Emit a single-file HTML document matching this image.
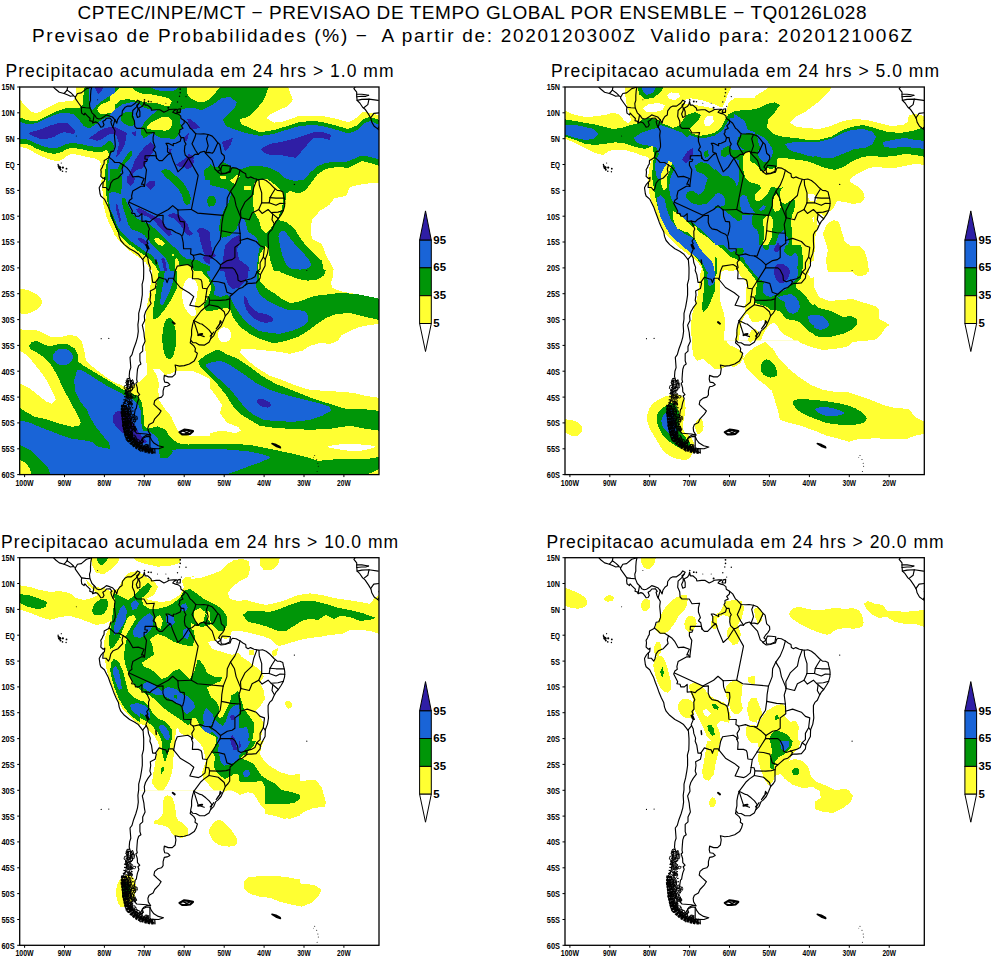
<!DOCTYPE html>
<html><head><meta charset="utf-8"><title>CPTEC</title>
<style>html,body{margin:0;padding:0;background:#fff}svg{display:block}text{font-family:"Liberation Sans",sans-serif;fill:#000}</style></head><body>
<svg width="991" height="957" viewBox="0 0 991 957">
<rect width="991" height="957" fill="#fff"/>
<defs>
<clipPath id="c1"><rect x="19.7" y="87.0" width="359.3" height="387.6"/></clipPath>
<clipPath id="c2"><rect x="565.0" y="87.0" width="359.3" height="387.6"/></clipPath>
<clipPath id="c3"><rect x="19.7" y="557.7" width="359.3" height="387.6"/></clipPath>
<clipPath id="c4"><rect x="565.0" y="557.7" width="359.3" height="387.6"/></clipPath>
<g id="ml" fill="none" stroke="#000" stroke-width="1.15" stroke-linejoin="round" stroke-linecap="round"><path d="M114.8,119.6 L116.8,123.2 L117.6,119.6 L119.6,116.5 L122.0,114.9 L122.4,110.8 L125.2,107.2 L127.6,106.1 L131.2,106.1 L135.5,103.0 L137.5,100.2 L139.9,101.5 L138.7,103.5 L136.7,105.1 L137.9,107.9 L137.9,110.3 L136.3,113.9 L137.5,117.5 L139.9,116.5 L139.9,111.8 L138.7,108.2 L141.9,106.6 L143.5,104.6 L144.3,101.5 L145.1,105.1 L147.5,105.1 L151.1,108.2 L151.5,110.3 L156.3,109.7 L159.9,109.7 L163.9,112.3 L167.1,110.8 L169.1,109.5 L173.1,109.2 L176.7,109.2 L173.9,110.8 L172.7,112.3 L175.5,113.4 L177.9,113.9 L180.6,115.9 L181.0,118.5 L184.2,120.6 L187.4,123.2 L190.2,128.3 L191.8,129.4 L195.0,133.0 L196.2,133.8 L200.6,134.0 L203.8,133.8 L208.2,134.5 L212.2,136.1 L215.0,139.2 L217.4,142.3 L219.8,144.4 L221.4,153.2 L224.2,155.7 L224.5,158.8 L222.6,161.9 L220.2,164.5 L218.6,167.1 L221.0,169.2 L217.4,171.8 L221.0,174.3 L224.9,173.8 L228.1,172.8 L230.1,172.3 L231.3,168.7 L232.5,167.6 L236.1,168.1 L240.1,170.2 L242.9,172.3 L245.7,173.8 L246.1,176.9 L248.1,178.0 L250.5,176.9 L254.1,178.5 L256.9,179.2 L259.3,179.5 L262.5,179.0 L266.1,180.5 L270.0,183.6 L274.0,187.8 L277.2,190.4 L280.0,190.6 L282.8,191.9 L283.4,195.0 L284.4,198.6 L284.8,201.7 L284.6,206.1 L283.2,211.0 L281.2,214.6 L278.4,218.8 L276.0,221.4 L274.0,225.0 L272.0,229.6 L269.6,231.7 L268.1,234.8 L268.1,241.0 L268.5,247.2 L267.5,253.4 L265.3,259.1 L265.1,265.8 L262.9,269.9 L260.5,274.6 L260.1,278.2 L256.1,282.9 L251.3,283.4 L248.1,283.4 L245.3,284.9 L242.5,287.5 L238.9,288.6 L235.3,291.7 L232.5,294.2 L230.1,296.3 L229.7,301.0 L229.7,305.1 L229.7,310.3 L228.1,312.8 L225.3,315.9 L223.4,320.6 L221.0,325.8 L217.8,329.4 L215.8,330.9 L213.8,335.6 L210.6,338.9 L209.0,342.3 L204.6,345.1 L199.4,344.9 L195.8,342.8 L192.8,342.6 L190.8,340.2 L190.2,342.8 L193.8,345.9 L195.4,348.5 L195.0,351.6 L197.4,353.2 L196.2,357.3 L194.2,360.9 L189.4,364.0 L184.2,365.6 L179.5,366.1 L175.1,365.0 L175.9,369.2 L175.1,374.3 L172.3,376.9 L168.3,376.9 L164.3,375.4 L163.9,379.0 L164.7,382.1 L167.9,382.6 L169.9,384.7 L167.1,386.2 L164.3,386.7 L163.1,390.9 L163.1,395.0 L161.5,397.1 L157.9,398.1 L154.7,400.7 L153.9,404.3 L157.1,407.4 L161.1,411.0 L159.1,414.1 L154.7,418.8 L153.1,422.4 L149.1,424.5 L147.9,427.6 L148.3,431.2 L150.7,435.1 L147.1,434.8 L143.5,436.9 L140.7,441.5 L138.7,442.6 L135.2,440.5 L131.2,438.4 L128.8,436.9 L126.0,434.3 L124.4,430.7 L123.2,425.5 L122.4,419.3 L122.4,414.1 L122.0,407.4 L122.8,405.3 L125.2,402.2 L126.4,397.1 L127.2,391.9 L132.4,389.8 L133.2,383.1 L130.4,380.5 L129.2,376.4 L129.6,371.2 L130.8,367.6 L130.4,362.5 L130.0,357.3 L132.0,354.7 L133.6,349.0 L135.9,342.8 L137.5,337.1 L138.3,331.4 L137.9,324.7 L138.7,319.0 L138.7,313.4 L140.3,307.2 L141.5,300.4 L142.3,294.8 L142.3,288.6 L142.1,284.4 L143.5,279.2 L143.7,273.0 L143.7,267.9 L143.1,260.1 L140.7,257.0 L138.3,253.9 L134.4,251.3 L129.6,248.8 L124.4,244.6 L120.8,240.5 L119.2,236.4 L118.4,231.7 L116.0,227.1 L114.0,222.4 L112.0,216.7 L110.0,211.5 L108.4,206.9 L106.0,202.2 L104.4,199.1 L100.8,196.0 L100.0,193.5 L99.6,190.4 L99.2,187.8 L100.8,184.7 L102.8,182.3 L104.4,181.1 L104.8,177.4 L103.2,178.5 L100.8,176.4 L101.2,171.8 L100.8,169.7 L102.4,167.1 L102.8,165.6 L104.0,164.0 L104.2,160.4 L106.0,159.4 L108.8,157.8 L110.0,154.7 L110.8,151.6 L113.6,151.1 L115.2,146.9 L115.2,143.8 L114.8,139.7 L114.4,135.6 L115.0,130.9 L113.6,128.3 L112.8,127.1"/>
<path d="M112.8,127.1 L111.6,124.7 L110.8,121.6 L112.0,120.6 L110.0,118.0 L106.4,118.3 L105.2,120.1 L102.8,121.6 L104.0,124.7 L102.8,126.8 L100.8,127.1 L99.6,125.2 L97.6,122.7 L95.6,121.9 L92.8,122.9 L92.4,121.4 L89.7,120.6 L90.1,118.5 L86.9,115.4 L84.9,113.1 L84.1,114.9 L81.7,113.1 L81.3,109.7 L81.7,107.4 L78.5,103.0 L75.3,98.4 L75.3,96.8 L73.3,95.8 L70.5,96.3 L67.3,94.8 L64.1,93.5 L59.3,92.2 L55.7,89.3 L52.9,86.5"/>
<path d="M91.8,86.5 L90.9,90.6 L90.5,95.8 L90.5,100.4 L89.5,103.5 L89.9,107.7 L92.0,112.8 L95.2,115.9 L96.4,118.0 L98.8,119.0 L101.2,118.5 L104.4,116.5 L106.4,114.9 L108.8,115.7 L112.4,117.0 L114.8,119.6"/>
<path d="M355.5,86.5 L353.9,88.6 L356.7,92.2 L356.7,95.8 L357.1,100.4 L359.8,103.0 L362.6,107.2 L365.0,109.2 L368.6,114.4 L371.0,118.5 L371.8,122.1 L374.2,126.3 L377.8,128.9 L379.8,130.4"/>
<path d="M356.7,94.2 L361.8,94.2 L365.8,94.8 L368.6,95.3"/>
<path d="M356.7,96.8 L361.8,96.3 L365.8,96.3 L368.6,95.3"/>
<path d="M357.1,100.4 L361.8,99.4 L369.0,99.1 L378.2,100.4"/>
<path d="M363.8,107.7 L367.8,104.6 L369.0,99.1"/>
<path d="M370.6,118.0 L373.8,113.4 L379.0,112.8"/>
<path d="M377.8,128.6 L380.6,124.7 L379.0,120.6"/>
<path d="M138.9,103.5 L136.3,107.2 L132.8,110.5 L132.4,116.5 L134.4,121.1 L134.8,126.3 L136.7,128.3 L143.9,128.3 L146.7,133.0 L154.3,132.5 L153.1,137.1 L153.1,141.3 L155.1,146.9 L153.1,150.0 L155.5,152.1 L156.7,158.3"/>
<path d="M156.7,158.3 L155.9,155.7 L152.7,155.5 L145.1,155.7 L144.9,159.0 L147.5,159.4 L146.7,161.4 L144.1,161.7 L144.1,165.3 L146.5,169.7 L144.5,186.2"/>
<path d="M144.5,186.2 L143.1,184.2 L141.5,184.2 L144.1,178.5 L138.3,176.4 L132.8,176.9 L129.6,171.0 L126.8,167.6 L123.2,165.0"/>
<path d="M123.2,165.0 L119.2,162.5 L114.8,162.5 L112.4,159.9 L109.0,157.3"/>
<path d="M123.2,165.0 L122.0,169.2 L122.8,172.8 L118.0,178.0 L113.2,180.0 L110.8,183.1 L109.6,188.3 L108.4,190.4 L106.0,187.5 L102.8,187.5 L103.2,182.3"/>
<path d="M144.5,186.2 L141.1,186.2 L132.8,190.9 L131.6,196.0 L132.0,198.6 L129.6,200.2 L128.4,203.3 L132.4,211.0 L131.6,213.1 L134.8,213.6 L135.5,216.2 L139.1,216.2 L141.9,213.6 L141.9,221.4 L145.9,221.1"/>
<path d="M145.9,221.1 L149.5,229.1 L148.5,231.2 L148.7,238.4 L146.7,241.0 L147.9,243.6 L145.9,245.1 L148.3,248.2 L145.9,253.9 L146.3,255.0"/>
<path d="M146.3,255.0 L142.7,259.4"/>
<path d="M146.3,255.0 L147.9,258.1 L148.5,262.7 L150.3,267.4 L149.9,270.5 L151.5,274.6 L152.7,282.4 L155.5,282.4"/>
<path d="M155.5,282.4 L156.3,283.4 L155.1,288.6 L150.3,291.1 L150.7,294.8 L149.9,300.4 L151.1,303.5 L147.9,307.7 L145.5,311.8 L144.3,315.9 L144.7,320.6 L142.3,325.2 L143.9,332.5 L144.3,336.6 L145.1,341.3 L142.7,346.4 L142.7,351.1 L139.9,353.7 L139.9,360.9 L140.9,364.0 L138.7,365.6 L137.5,369.2 L137.1,373.8 L136.7,379.5 L137.3,382.1 L135.9,383.1 L137.3,387.8 L137.5,391.9 L139.7,394.5 L137.9,396.0 L138.9,398.6 L137.5,402.2 L136.7,405.9 L136.3,408.4 L135.2,409.5 L134.4,414.7 L134.0,416.7 L130.4,419.3 L130.4,422.9 L131.6,426.5 L135.2,426.3 L134.8,431.2 L136.7,433.3 L146.3,434.0 L150.5,435.1"/>
<path d="M155.5,282.4 L159.1,277.2 L163.5,278.7 L165.9,279.2 L167.1,282.6 L168.7,278.2 L173.1,278.2 L173.7,279.5"/>
<path d="M173.7,279.5 L175.3,270.7 L177.3,266.1 L187.8,264.5 L191.4,266.8 L191.6,268.7"/>
<path d="M191.6,268.7 L192.8,267.6 L191.8,262.7 L194.2,258.6 L193.2,255.2 L190.6,253.9 L191.0,248.8 L183.6,248.6 L183.2,242.6 L181.8,235.8 L180.2,234.3 L175.9,232.5 L171.9,229.9 L166.7,228.9 L164.3,226.3 L162.9,222.4 L163.1,215.2 L157.9,215.7 L155.1,217.8 L151.9,219.8 L149.9,221.9 L145.9,221.1"/>
<path d="M191.6,268.7 L192.8,271.8 L192.4,278.7 L198.2,278.7 L201.0,279.8 L201.8,281.8 L202.6,288.3 L207.0,288.8 L205.8,296.8"/>
<path d="M205.8,296.8 L205.0,302.2 L200.6,305.9 L198.6,306.9 L189.8,305.3 L193.8,296.6 L189.0,292.7 L180.2,287.5 L173.7,279.5"/>
<path d="M205.8,296.8 L208.8,297.1 L209.6,300.2 L209.0,304.8 L204.2,308.2 L201.0,311.0 L193.8,320.6"/>
<path d="M193.8,320.6 L200.2,323.7 L201.8,324.0 L205.8,327.1 L209.2,330.2 L211.8,333.8 L210.6,338.9"/>
<path d="M193.8,320.6 L192.6,324.7 L191.6,329.9 L191.6,335.1 L190.6,339.7"/>
<path d="M184.2,120.6 L184.2,123.2 L181.4,125.8 L183.0,128.3 L179.7,129.9 L179.7,132.5 L178.7,133.8 L181.2,137.6"/>
<path d="M181.2,137.6 L180.2,141.3 L175.9,143.3 L173.3,143.6 L173.3,145.7 L168.3,143.3 L165.9,143.3 L167.5,145.9 L167.5,151.9 L170.7,153.4 L168.3,154.4 L162.3,160.6 L159.1,160.6 L156.7,158.3"/>
<path d="M181.2,137.6 L183.8,137.6 L184.4,141.3 L186.0,144.1 L184.8,145.9 L184.4,151.1 L185.2,155.0 L188.2,157.8 L190.2,157.8 L192.2,156.8 L195.0,154.4 L198.2,154.4"/>
<path d="M195.8,133.8 L195.0,137.1 L193.4,140.7 L192.0,143.8 L193.8,147.2 L195.4,150.3 L198.2,154.4"/>
<path d="M198.2,154.4 L200.2,152.4 L204.2,151.3 L205.8,152.6"/>
<path d="M208.2,134.5 L206.4,138.7 L208.2,145.9 L205.8,152.6"/>
<path d="M205.8,152.6 L209.0,152.4 L212.4,153.2 L214.0,151.3 L217.6,143.3"/>
<path d="M115.0,119.7 L112.8,127.1"/>
<path d="M94.2,115.2 L92.8,122.9"/>
<path d="M89.9,108.0 L85.7,107.7 L81.7,107.2"/>
<path d="M91.8,87.0 L86.5,88.6 L81.3,92.9 L77.5,93.5 L75.3,97.3"/>
<path d="M73.5,95.3 L70.7,92.7 L67.1,90.1"/>
<path d="M67.1,90.1 L64.1,93.5"/>
<path d="M67.1,90.1 L67.7,86.5"/>
<path d="M149.9,436.6 L149.9,448.2"/>
<path d="M188.6,158.3 L198.2,175.4 L191.4,209.5"/>
<path d="M191.4,209.5 L196.2,212.3 L197.4,213.1 L223.2,215.4"/>
<path d="M191.4,209.5 L177.9,210.0"/>
<path d="M177.9,210.0 L172.7,205.6 L168.3,209.5 L157.5,215.2"/>
<path d="M129.2,202.2 L157.5,215.2"/>
<path d="M177.9,210.0 L178.3,216.2 L180.2,221.4 L184.2,221.9 L184.6,226.5 L183.8,231.2 L182.6,235.3"/>
<path d="M170.7,153.4 L173.1,160.4 L176.7,168.7 L177.9,171.8 L183.0,167.1 L188.6,158.3"/>
<path d="M205.0,152.6 L212.2,160.4 L215.0,169.2 L217.4,171.2"/>
<path d="M240.1,170.2 L238.1,177.4 L234.9,185.2 L230.5,191.4"/>
<path d="M230.5,191.4 L227.3,198.1 L226.9,205.9 L223.2,215.4"/>
<path d="M223.2,215.4 L221.8,224.0 L221.4,230.7 L220.2,239.5 L215.0,247.2 L211.8,256.0 L209.4,256.0"/>
<path d="M230.5,191.4 L234.5,198.1 L236.1,205.9 L240.1,215.7 L240.9,217.8"/>
<path d="M256.9,179.2 L253.7,187.8 L252.1,195.5 L244.9,202.2 L240.5,211.0 L240.9,217.8"/>
<path d="M258.9,179.5 L259.3,185.2 L261.7,192.9 L261.7,202.8"/>
<path d="M275.0,189.3 L272.0,194.0 L270.0,197.6"/>
<path d="M270.0,197.6 L269.2,202.8 L261.7,202.8"/>
<path d="M270.0,197.6 L276.0,198.1 L284.0,198.1"/>
<path d="M269.2,202.8 L276.0,205.3 L280.0,203.3 L284.8,203.5"/>
<path d="M283.4,210.5 L278.0,212.1 L271.2,212.6 L268.1,209.5 L262.1,213.4 L258.7,209.5 L261.7,202.8"/>
<path d="M278.4,218.8 L272.8,214.1 L271.2,212.6"/>
<path d="M274.4,224.0 L272.0,219.8 L272.8,214.1"/>
<path d="M240.9,217.8 L249.3,219.8 L252.1,213.1 L258.7,209.5"/>
<path d="M240.9,217.8 L238.9,224.5 L240.1,233.3"/>
<path d="M221.4,230.7 L226.5,231.7 L231.3,232.7 L240.1,233.3"/>
<path d="M240.1,233.3 L240.5,243.1 L234.9,247.2 L234.9,257.5 L232.1,259.6 L227.3,260.6 L220.6,264.8"/>
<path d="M240.1,240.5 L247.3,238.4 L256.1,241.5 L260.1,245.7 L264.5,247.2 L263.3,257.0 L265.3,259.4"/>
<path d="M263.3,257.0 L260.1,262.7 L260.1,268.9 L256.9,272.0 L260.1,274.6"/>
<path d="M256.9,272.0 L254.9,276.7 L251.3,278.7 L245.3,280.3"/>
<path d="M245.3,280.3 L240.9,281.8 L238.1,280.3 L237.7,275.6 L234.9,269.9 L232.5,267.9 L226.9,267.9 L220.2,267.9"/>
<path d="M245.3,280.3 L247.3,281.8 L245.3,285.2"/>
<path d="M232.5,294.2 L226.9,292.2 L225.7,287.5 L224.5,283.4 L218.2,281.8 L211.8,281.3"/>
<path d="M220.2,267.9 L216.6,273.6 L211.8,281.3"/>
<path d="M211.8,281.3 L207.8,287.5 L207.0,288.8"/>
<path d="M220.2,267.9 L220.6,264.8 L216.2,260.6 L211.8,257.5 L209.4,256.0"/>
<path d="M209.4,256.0 L204.6,255.5 L200.2,253.9 L193.0,255.5"/>
<path d="M229.7,298.9 L226.1,299.9 L220.2,300.4 L209.8,300.2"/>
<path d="M225.3,315.9 L224.2,311.8 L218.2,306.6 L209.0,304.8"/>
<path d="M222.2,165.3 L226.1,165.6 L230.5,166.1 L229.7,171.2 L225.3,173.3 L221.4,173.3 L220.6,169.2 Z"/>
<path d="M176.7,112.3 L180.2,112.3 L180.4,108.7 L177.9,109.2 Z"/>
<path d="M145.9,244.6 L147.5,245.1 L149.1,248.8 L147.1,248.2 Z" fill="#000"/>
<path d="M220.2,320.6 L219.4,324.7 L216.2,328.9 L218.6,325.2 L221.4,322.1 Z"/>
<path d="M213.8,332.0 L211.4,335.1 L210.2,336.1 L212.6,333.5 Z"/>
<path d="M198.2,335.1 L200.2,334.3 L202.2,334.0" stroke-width="2"/>
<path d="M193.8,320.6 L198.2,334.5 L204.2,336.6"/>
<path d="M179.5,432.2 L184.2,429.6 L188.2,430.2 L193.0,431.2 L190.2,433.8 L186.2,434.3 L182.2,434.3 Z" stroke-width="2.2"/>
<path d="M182.2,430.7 L187.0,432.7 L189.8,431.2 L185.8,433.3" stroke-width="1.4"/>
<path d="M272.0,443.6 L276.0,444.6 L280.0,446.7 L280.4,447.7 L276.0,446.2 Z" stroke-width="1.6" fill="#000"/>
<circle cx="59.7" cy="167.6" r="1.6" fill="#000" stroke="none"/>
<circle cx="58.5" cy="166.1" r="1.0" fill="#000" stroke="none"/>
<circle cx="62.9" cy="167.6" r="1.1" fill="#000" stroke="none"/>
<circle cx="60.5" cy="169.7" r="1.0" fill="#000" stroke="none"/>
<circle cx="66.5" cy="168.7" r="0.9" fill="#000" stroke="none"/>
<circle cx="62.5" cy="171.2" r="0.8" fill="#000" stroke="none"/>
<circle cx="66.1" cy="171.8" r="0.7" fill="#000" stroke="none"/>
<circle cx="61.3" cy="163.0" r="0.6" fill="#000" stroke="none"/>
<circle cx="58.1" cy="164.5" r="0.7" fill="#000" stroke="none"/>
<circle cx="144.5" cy="99.9" r="0.8" fill="#000" stroke="none"/>
<circle cx="148.5" cy="101.5" r="0.9" fill="#000" stroke="none"/>
<circle cx="151.1" cy="101.7" r="0.8" fill="#000" stroke="none"/>
<circle cx="157.5" cy="103.3" r="0.5" fill="#000" stroke="none"/>
<circle cx="165.9" cy="103.3" r="0.5" fill="#000" stroke="none"/>
<circle cx="168.3" cy="107.7" r="1.0" fill="#000" stroke="none"/>
<circle cx="177.5" cy="102.0" r="0.7" fill="#000" stroke="none"/>
<circle cx="179.5" cy="96.3" r="0.7" fill="#000" stroke="none"/>
<circle cx="180.2" cy="92.7" r="0.8" fill="#000" stroke="none"/>
<circle cx="180.2" cy="89.1" r="0.9" fill="#000" stroke="none"/>
<circle cx="186.0" cy="96.6" r="0.7" fill="#000" stroke="none"/>
<circle cx="181.4" cy="106.4" r="0.6" fill="#000" stroke="none"/>
<circle cx="294.4" cy="184.4" r="0.7" fill="#000" stroke="none"/>
<circle cx="306.8" cy="270.5" r="0.6" fill="#000" stroke="none"/>
<circle cx="97.6" cy="99.7" r="0.5" fill="#000" stroke="none"/>
<circle cx="101.2" cy="338.7" r="0.6" fill="#000" stroke="none"/>
<circle cx="108.8" cy="338.4" r="0.6" fill="#000" stroke="none"/>
<circle cx="317.9" cy="463.2" r="0.5" fill="#000" stroke="none"/>
<circle cx="316.7" cy="459.6" r="0.5" fill="#000" stroke="none"/>
<circle cx="314.7" cy="455.5" r="0.5" fill="#000" stroke="none"/>
<circle cx="313.5" cy="457.5" r="0.4" fill="#000" stroke="none"/>
<circle cx="318.3" cy="466.3" r="0.5" fill="#000" stroke="none"/>
<circle cx="317.1" cy="471.5" r="0.5" fill="#000" stroke="none"/>
<circle cx="76.3" cy="136.1" r="0.5" fill="#000" stroke="none"/>
<path d="M155.9,260.1 L156.3,263.7" stroke-width="1.5"/>
<path d="M172.7,322.1 L174.7,323.7" stroke-width="2"/>
<path d="M149.9,436.6 L151.5,440.0 L153.9,443.1 L158.3,445.7 L163.5,447.0 L158.7,448.8 L152.3,448.5 L146.3,449.8 L140.3,447.7 L136.3,445.1 L140.7,443.6 L143.1,441.5 L142.3,438.4 L146.7,436.4 Z"/>
<path d="M144.3,450.3 L150.3,450.6 L154.3,452.4 L149.1,451.9 Z"/>
<path d="M126.8,379.6 L126.2,380.7 L126.8,381.6 L127.5,382.3 L127.9,381.1 L127.9,380.0 L127.4,378.8 Z" stroke-width="0.9"/>
<path d="M133.6,382.9 L133.3,381.2 L132.5,379.5 L131.8,381.3 L130.8,382.5 L131.8,383.7 L132.7,383.7 Z" stroke-width="0.9"/>
<path d="M126.8,383.6 L127.7,384.3 L128.2,382.9 L128.2,381.7 L127.7,380.7 L126.7,380.5 L126.4,382.2 Z" stroke-width="0.9"/>
<path d="M128.0,384.6 L128.7,383.4 L129.0,382.2 L127.8,381.5 L126.2,381.5 L125.7,383.1 L126.8,384.0 Z" stroke-width="0.9"/>
<path d="M128.1,385.6 L127.9,386.7 L129.8,387.1 L131.2,386.3 L131.7,385.1 L129.9,384.6 L128.1,384.5 Z" stroke-width="0.9"/>
<path d="M134.4,386.0 L134.5,383.7 L133.1,383.5 L131.8,383.2 L131.3,385.4 L131.9,387.9 L133.6,388.0 Z" stroke-width="0.9"/>
<path d="M128.9,385.9 L128.3,385.9 L127.4,386.4 L128.0,387.8 L128.5,388.5 L129.2,388.1 L129.8,386.7 Z" stroke-width="0.9"/>
<path d="M127.1,390.6 L127.6,388.2 L127.5,386.3 L126.3,385.5 L124.6,385.7 L124.0,388.4 L125.7,389.4 Z" stroke-width="0.9"/>
<path d="M126.8,389.3 L125.6,389.5 L125.5,391.1 L126.2,392.5 L127.9,392.9 L128.6,390.9 L128.0,389.2 Z" stroke-width="0.9"/>
<path d="M130.0,392.4 L130.9,390.6 L130.6,388.3 L130.0,386.9 L129.3,387.8 L128.6,389.1 L129.3,390.5 Z" stroke-width="0.9"/>
<path d="M127.2,393.0 L126.7,392.4 L125.8,392.0 L125.3,392.7 L124.5,393.6 L125.8,394.1 L126.8,393.6 Z" stroke-width="0.9"/>
<path d="M127.6,393.7 L127.9,392.4 L127.4,391.5 L126.3,391.6 L125.6,392.0 L125.3,392.8 L126.1,393.3 Z" stroke-width="0.9"/>
<path d="M130.1,394.0 L128.3,394.4 L126.6,394.8 L126.0,396.7 L128.1,397.9 L130.3,397.2 L130.5,395.5 Z" stroke-width="0.9"/>
<path d="M130.6,396.7 L131.6,395.8 L132.5,394.2 L131.0,392.6 L128.8,393.2 L127.8,395.0 L128.7,396.9 Z" stroke-width="0.9"/>
<path d="M129.9,396.0 L129.3,395.5 L128.1,395.1 L126.9,395.8 L127.6,396.8 L128.6,397.6 L130.2,397.1 Z" stroke-width="0.9"/>
<path d="M134.6,395.7 L133.5,395.4 L132.7,396.5 L133.2,397.9 L134.4,398.0 L135.4,397.5 L135.7,396.1 Z" stroke-width="0.9"/>
<path d="M127.8,396.9 L127.6,399.0 L129.5,399.1 L131.3,398.7 L131.9,396.2 L130.0,395.2 L128.4,395.3 Z" stroke-width="0.9"/>
<path d="M132.4,396.5 L131.1,396.3 L130.7,397.4 L130.2,398.4 L131.2,399.3 L132.3,398.7 L132.5,397.7 Z" stroke-width="0.9"/>
<path d="M124.1,402.6 L126.0,403.8 L128.1,404.6 L129.7,402.8 L128.5,401.1 L127.1,400.4 L125.6,400.9 Z" stroke-width="0.9"/>
<path d="M129.0,398.7 L127.7,398.8 L126.8,399.5 L126.6,401.0 L127.4,402.4 L128.6,401.6 L129.6,400.5 Z" stroke-width="0.9"/>
<path d="M130.0,401.7 L129.2,400.8 L129.1,402.4 L129.1,403.8 L129.8,404.7 L130.6,403.8 L130.6,402.3 Z" stroke-width="0.9"/>
<path d="M128.2,402.9 L129.2,403.5 L131.0,403.7 L131.7,402.7 L131.1,401.7 L129.3,401.2 L127.4,401.8 Z" stroke-width="0.9"/>
<path d="M128.5,404.3 L128.7,406.1 L129.9,407.8 L131.4,406.6 L132.1,404.5 L131.1,402.4 L129.6,403.3 Z" stroke-width="0.9"/>
<path d="M131.1,402.8 L129.5,402.7 L128.3,403.0 L128.3,403.8 L128.8,404.8 L130.9,404.8 L132.3,403.8 Z" stroke-width="0.9"/>
<path d="M128.5,407.0 L128.8,404.5 L127.6,404.3 L126.7,405.1 L126.1,407.4 L127.0,409.4 L128.0,408.3 Z" stroke-width="0.9"/>
<path d="M124.8,405.7 L124.6,406.9 L124.3,407.9 L125.4,408.3 L126.2,407.6 L126.7,406.8 L126.2,405.8 Z" stroke-width="0.9"/>
<path d="M125.4,406.4 L124.1,406.0 L122.3,405.7 L122.5,408.2 L123.5,409.5 L124.9,410.0 L126.6,408.6 Z" stroke-width="0.9"/>
<path d="M128.6,411.3 L129.7,411.8 L130.3,411.4 L131.1,410.0 L130.5,408.1 L129.7,408.3 L128.5,408.5 Z" stroke-width="0.9"/>
<path d="M129.7,407.1 L128.7,406.0 L127.9,406.6 L127.3,408.3 L127.5,410.8 L128.6,410.3 L129.1,409.2 Z" stroke-width="0.9"/>
<path d="M128.4,409.8 L128.0,409.1 L127.1,409.2 L126.3,409.9 L127.0,410.8 L127.7,411.3 L128.3,410.6 Z" stroke-width="0.9"/>
<path d="M122.4,412.8 L122.8,414.3 L123.8,414.8 L123.8,412.4 L124.0,410.3 L123.0,410.1 L122.3,411.0 Z" stroke-width="0.9"/>
<path d="M130.7,412.0 L130.7,409.9 L129.1,409.3 L127.8,410.5 L127.9,412.4 L128.8,413.6 L129.9,413.0 Z" stroke-width="0.9"/>
<path d="M124.6,411.9 L123.1,411.1 L121.6,412.2 L122.1,413.6 L123.8,414.0 L125.1,413.6 L125.6,412.6 Z" stroke-width="0.9"/>
<path d="M128.5,413.0 L127.7,411.6 L126.5,411.3 L124.9,411.3 L125.2,412.8 L125.8,413.7 L126.9,413.3 Z" stroke-width="0.9"/>
<path d="M129.2,413.6 L128.7,412.6 L127.9,412.0 L127.5,413.1 L127.5,414.2 L128.0,415.2 L128.9,414.7 Z" stroke-width="0.9"/>
<path d="M128.9,416.2 L130.5,415.0 L131.1,413.5 L131.0,411.3 L129.1,412.0 L127.4,412.5 L127.5,414.6 Z" stroke-width="0.9"/>
<path d="M123.3,415.1 L124.7,413.6 L125.7,412.3 L124.7,410.8 L122.7,410.2 L121.1,411.8 L121.3,414.0 Z" stroke-width="0.9"/>
<path d="M129.6,411.0 L128.5,411.3 L127.7,412.6 L128.7,413.7 L130.1,415.0 L131.2,413.2 L131.1,411.2 Z" stroke-width="0.9"/>
<path d="M131.4,418.2 L132.2,417.4 L132.5,415.3 L131.7,414.4 L130.9,413.3 L130.7,415.4 L130.9,416.8 Z" stroke-width="0.9"/>
<path d="M128.1,415.4 L127.8,413.7 L126.9,412.9 L125.8,413.6 L125.5,415.9 L126.5,417.3 L127.6,417.2 Z" stroke-width="0.9"/>
<path d="M124.5,414.6 L124.1,416.4 L124.2,417.7 L124.8,418.7 L125.9,418.7 L126.4,416.6 L125.7,414.7 Z" stroke-width="0.9"/>
<path d="M128.7,414.2 L127.1,414.4 L125.5,414.4 L125.2,416.4 L126.8,416.8 L128.0,417.2 L129.1,416.1 Z" stroke-width="0.9"/>
<path d="M130.6,416.0 L129.7,417.1 L129.0,418.6 L129.2,421.3 L130.5,420.5 L131.6,420.1 L131.4,417.6 Z" stroke-width="0.9"/>
<path d="M134.2,417.2 L134.5,418.5 L135.2,419.8 L136.0,418.6 L136.0,416.6 L135.3,415.6 L134.4,415.5 Z" stroke-width="0.9"/>
<path d="M129.2,418.3 L130.1,417.2 L129.6,415.1 L128.7,414.0 L128.2,415.9 L128.0,417.6 L128.6,418.9 Z" stroke-width="0.9"/>
<path d="M136.1,416.6 L135.3,417.1 L134.6,418.5 L135.9,419.1 L137.3,419.5 L137.4,417.8 L137.0,416.6 Z" stroke-width="0.9"/>
<path d="M126.6,423.1 L128.4,421.4 L128.1,418.6 L125.8,417.9 L123.8,418.6 L124.2,420.8 L124.4,423.1 Z" stroke-width="0.9"/>
<path d="M130.7,418.8 L128.9,418.3 L127.6,418.1 L126.9,419.2 L127.4,420.2 L128.7,421.1 L130.5,420.5 Z" stroke-width="0.9"/>
<path d="M125.6,418.7 L125.4,420.0 L126.0,421.0 L127.2,421.9 L127.7,420.1 L127.3,418.7 L126.4,417.1 Z" stroke-width="0.9"/>
<path d="M135.2,419.7 L134.4,419.4 L133.7,419.5 L133.4,420.4 L133.7,421.5 L134.9,421.9 L135.6,420.8 Z" stroke-width="0.9"/>
<path d="M128.8,421.7 L128.2,420.2 L127.1,421.3 L126.2,422.1 L126.6,423.5 L128.0,424.2 L128.7,422.8 Z" stroke-width="0.9"/>
<path d="M127.9,423.7 L127.7,421.8 L126.2,422.0 L125.4,422.3 L124.5,423.4 L125.2,425.0 L126.7,424.7 Z" stroke-width="0.9"/>
<path d="M130.4,426.7 L131.5,424.5 L130.5,422.5 L129.5,422.0 L128.7,422.7 L128.1,424.5 L128.9,426.5 Z" stroke-width="0.9"/>
<path d="M131.6,421.0 L132.4,422.5 L133.3,424.4 L134.5,422.8 L135.7,421.1 L134.3,419.4 L132.8,419.8 Z" stroke-width="0.9"/>
<path d="M126.5,423.5 L125.3,422.8 L123.7,423.2 L123.3,424.0 L123.5,425.0 L125.1,424.8 L126.2,424.5 Z" stroke-width="0.9"/>
<path d="M125.6,422.7 L126.0,424.4 L127.2,426.4 L128.8,424.7 L128.5,422.4 L127.5,421.5 L126.2,420.9 Z" stroke-width="0.9"/>
<path d="M130.3,425.5 L130.1,424.1 L129.6,422.9 L128.6,423.1 L127.9,424.7 L128.7,426.0 L129.7,427.3 Z" stroke-width="0.9"/>
<path d="M129.5,421.4 L129.1,423.9 L129.3,425.7 L130.0,427.6 L130.8,426.0 L131.7,423.9 L130.7,422.2 Z" stroke-width="0.9"/>
<path d="M125.8,425.0 L124.4,424.9 L122.5,425.4 L123.5,427.8 L124.5,428.6 L125.5,428.3 L126.4,426.8 Z" stroke-width="0.9"/>
<path d="M133.5,426.4 L133.3,424.5 L132.5,422.0 L130.6,423.0 L130.7,425.5 L130.7,427.8 L132.4,427.8 Z" stroke-width="0.9"/>
<path d="M126.2,426.3 L125.0,426.5 L125.6,427.4 L125.9,428.4 L126.9,427.8 L127.4,427.2 L127.3,426.2 Z" stroke-width="0.9"/>
<path d="M130.3,425.2 L130.4,427.0 L130.7,428.2 L131.6,429.1 L131.8,427.3 L132.0,426.0 L131.3,424.7 Z" stroke-width="0.9"/>
<path d="M125.0,427.2 L124.0,428.3 L124.2,430.9 L124.7,432.2 L125.7,433.3 L126.2,430.8 L125.7,428.9 Z" stroke-width="0.9"/>
<path d="M132.4,430.7 L133.5,430.0 L134.0,429.0 L132.7,428.8 L131.9,428.7 L131.1,429.2 L131.0,430.2 Z" stroke-width="0.9"/>
<path d="M133.2,429.1 L134.3,430.2 L135.2,431.2 L136.2,430.1 L136.4,428.3 L135.3,427.2 L134.1,427.7 Z" stroke-width="0.9"/>
<path d="M129.1,428.5 L128.5,426.7 L127.4,427.9 L127.2,429.4 L127.6,430.6 L128.6,431.7 L129.3,430.2 Z" stroke-width="0.9"/>
<path d="M136.1,428.8 L135.1,428.2 L134.1,428.7 L134.0,429.6 L134.4,430.4 L135.5,430.6 L136.4,429.8 Z" stroke-width="0.9"/>
<path d="M134.4,430.8 L135.5,430.0 L134.7,429.1 L133.3,428.5 L132.3,429.4 L132.2,430.2 L133.1,430.8 Z" stroke-width="0.9"/>
<path d="M125.3,428.5 L125.5,430.2 L126.6,430.9 L128.1,431.5 L129.0,430.1 L128.9,428.5 L127.1,428.7 Z" stroke-width="0.9"/>
<path d="M132.3,429.4 L131.2,428.3 L129.9,428.2 L127.9,429.3 L128.9,431.7 L130.7,433.4 L132.1,431.4 Z" stroke-width="0.9"/>
<path d="M131.5,432.2 L129.9,431.1 L128.7,432.6 L128.1,434.4 L129.2,435.6 L130.5,435.7 L131.5,434.4 Z" stroke-width="0.9"/>
<path d="M130.9,431.7 L130.6,432.5 L130.7,433.2 L131.5,433.5 L132.7,433.4 L132.7,432.4 L131.8,432.1 Z" stroke-width="0.9"/>
<path d="M127.2,432.6 L126.3,431.1 L125.0,432.1 L124.7,433.7 L125.4,435.0 L126.9,436.1 L127.5,434.1 Z" stroke-width="0.9"/>
<path d="M132.5,433.6 L131.9,432.1 L130.8,430.8 L130.1,432.7 L130.3,434.2 L130.7,436.7 L132.0,435.5 Z" stroke-width="0.9"/>
<path d="M130.8,434.0 L130.2,433.0 L128.6,432.6 L128.2,433.8 L127.8,434.8 L129.0,435.3 L130.3,435.0 Z" stroke-width="0.9"/>
<path d="M127.7,434.4 L126.4,432.8 L124.7,433.9 L125.2,436.5 L125.9,437.7 L127.4,439.1 L128.6,436.7 Z" stroke-width="0.9"/>
<path d="M132.0,437.7 L132.6,436.1 L130.7,435.6 L128.8,435.0 L128.3,436.5 L128.6,437.7 L130.2,438.8 Z" stroke-width="0.9"/>
<path d="M132.7,436.5 L133.3,437.3 L134.1,437.6 L135.2,437.0 L135.1,435.2 L133.9,435.2 L132.9,435.1 Z" stroke-width="0.9"/>
<path d="M125.9,437.1 L126.7,438.1 L127.6,438.1 L128.2,436.7 L127.8,435.1 L126.9,434.2 L126.2,435.4 Z" stroke-width="0.9"/>
<path d="M131.6,436.8 L129.8,437.4 L129.7,439.2 L130.7,440.2 L132.0,440.6 L132.6,439.4 L132.4,438.2 Z" stroke-width="0.9"/>
<path d="M132.9,438.2 L131.7,437.6 L130.5,436.8 L129.5,438.3 L130.1,440.0 L131.3,440.0 L132.5,439.9 Z" stroke-width="0.9"/>
<path d="M132.0,436.2 L131.6,433.8 L130.5,434.2 L129.4,434.6 L129.7,437.1 L130.3,439.3 L131.6,438.7 Z" stroke-width="0.9"/>
<path d="M135.5,439.5 L136.5,439.5 L136.3,438.0 L136.0,436.5 L135.1,437.3 L134.4,438.0 L134.4,439.7 Z" stroke-width="0.9"/>
<path d="M130.4,440.1 L129.7,439.4 L128.3,438.6 L127.4,440.0 L127.6,441.6 L129.2,441.6 L130.8,441.5 Z" stroke-width="0.9"/>
<path d="M129.5,440.8 L130.1,439.4 L129.5,437.8 L127.8,438.5 L125.9,438.8 L126.5,440.5 L128.0,441.0 Z" stroke-width="0.9"/>
<path d="M133.8,438.6 L133.4,440.4 L134.5,441.6 L136.2,442.7 L136.9,440.9 L138.1,439.3 L135.9,438.8 Z" stroke-width="0.9"/>
<path d="M143.3,441.6 L143.0,440.7 L141.7,440.0 L140.6,441.0 L140.5,442.2 L141.6,443.5 L143.0,442.4 Z" stroke-width="0.9"/>
<path d="M133.6,440.8 L133.1,441.3 L133.5,442.0 L134.2,442.4 L134.9,441.8 L134.7,441.0 L134.2,440.3 Z" stroke-width="0.9"/>
<path d="M137.6,442.2 L136.0,441.5 L134.1,442.3 L134.3,443.8 L136.3,444.2 L137.8,443.8 L138.1,442.9 Z" stroke-width="0.9"/>
<path d="M136.7,440.7 L137.1,442.9 L138.3,443.3 L139.8,443.6 L139.4,441.5 L139.3,439.9 L138.1,439.8 Z" stroke-width="0.9"/>
<path d="M133.9,443.7 L133.9,442.4 L133.4,441.1 L132.6,441.7 L132.2,443.3 L132.6,445.1 L133.5,444.5 Z" stroke-width="0.9"/>
<path d="M136.2,447.5 L136.5,445.3 L137.1,443.3 L136.2,441.7 L135.4,442.7 L134.8,444.6 L135.3,446.5 Z" stroke-width="0.9"/>
<path d="M134.3,444.2 L133.6,445.1 L133.9,446.1 L135.2,446.4 L135.9,445.7 L136.3,444.9 L135.5,444.3 Z" stroke-width="0.9"/>
<path d="M142.1,444.3 L142.4,442.3 L141.1,442.6 L140.3,442.9 L140.1,444.3 L140.5,446.2 L141.9,446.4 Z" stroke-width="0.9"/>
<path d="M142.1,445.8 L142.4,444.5 L141.4,443.5 L139.9,443.4 L139.5,444.8 L139.6,446.2 L141.0,446.6 Z" stroke-width="0.9"/>
<path d="M146.0,444.9 L144.6,445.7 L145.5,447.1 L146.4,448.9 L147.6,447.4 L147.8,446.2 L147.3,445.2 Z" stroke-width="0.9"/>
<path d="M148.6,446.4 L147.8,445.6 L146.7,445.6 L146.0,446.4 L146.8,447.1 L147.4,447.8 L148.2,447.2 Z" stroke-width="0.9"/>
<path d="M148.0,446.2 L149.0,445.1 L147.0,444.5 L145.7,444.4 L144.7,444.9 L144.9,445.5 L145.7,446.5 Z" stroke-width="0.9"/>
<path d="M148.1,446.7 L147.2,445.6 L146.1,446.6 L145.6,447.6 L146.3,448.6 L147.6,448.2 L148.5,447.7 Z" stroke-width="0.9"/>
<path d="M144.7,448.0 L144.7,446.5 L143.3,446.0 L142.6,447.0 L142.0,448.0 L142.7,449.0 L144.1,449.3 Z" stroke-width="0.9"/>
<path d="M144.8,448.4 L146.1,447.7 L144.8,446.9 L143.7,446.9 L142.8,447.3 L142.3,448.5 L143.6,449.5 Z" stroke-width="0.9"/>
<path d="M141.0,446.2 L139.7,446.5 L138.4,447.8 L139.3,449.6 L140.4,451.5 L141.4,449.5 L141.5,447.9 Z" stroke-width="0.9"/>
<path d="M128.0,380.5 L130.4,381.1 L130.8,384.7 L130.0,388.8 L126.8,388.3 L127.6,384.2 Z"/>
<path d="M123.6,405 L123.3,411 L123.8,416.3 L124.5,421 L124.9,426 L126.2,432 L127.8,437 L131.5,442 L136,446 L141,448.6 L146,450.2 L151,451.3 L155.5,451" stroke-width="5.2" stroke-dasharray="2.4 0.8" stroke-linecap="butt"/>
<path d="M125,406 L125.5,414 L126.5,424 L128.5,433 L133,440.5 L139,445.5 L147,448.5 L153,450" stroke-width="4" stroke-dasharray="1.3 1.1" stroke-linecap="butt"/>
<path d="M128.8,378 L127.2,384 L126.6,388.5 L125.6,393 L125,397.5 L124,402 L123.5,406" stroke-width="2.2" stroke-dasharray="1.2 1.9" stroke-linecap="butt"/>
<path d="M131.5,380 L131,388 L131.5,396 L132,404 L133,412 L133.5,420 L134,428" stroke-width="1.6" stroke-dasharray="1.2 2.2" stroke-linecap="butt"/></g>
</defs>
<g clip-path="url(#c1)" shape-rendering="crispEdges">
<rect x="19.7" y="87.0" width="359.3" height="387.6" fill="#ffff32"/>
<polygon fill="#ffffff" points="18.0,270.0 152.3,270.0 150.9,281.0 149.9,291.0 147.9,301.0 146.3,311.0 145.1,322.9 144.9,336.9 145.5,350.9 146.7,364.9 146.7,374.9 141.9,379.9 137.9,382.9 131.9,385.9 127.9,388.9 121.9,385.3 113.9,382.1 105.9,376.9 97.9,370.9 90.9,365.3 85.9,359.9 84.3,350.9 81.9,341.9 76.9,336.5 69.9,334.9 60.0,337.3 51.0,337.3 44.0,333.3 36.0,329.9 28.0,330.3 18.0,328.9"/>
<polygon fill="#ffffff" points="18.0,349.9 25.0,353.9 32.0,360.9 40.0,370.9 47.0,380.9 53.0,392.9 56.0,399.9 52.0,403.9 46.0,401.3 38.0,394.9 29.0,387.9 18.0,382.9"/>
<polygon fill="#ffffff" points="193.4,279.0 195.2,280.6 196.5,282.5 197.3,284.8 197.7,287.5 197.6,290.5 197.3,293.5 196.8,296.5 196.2,299.5 195.4,302.5 195.0,305.2 194.9,307.5 195.3,309.6 196.0,311.3 196.2,312.9 196.1,314.2 195.4,315.2 194.4,316.1 193.2,316.3 191.8,315.8 190.2,314.6 188.4,312.7 186.9,310.8 185.6,308.7 184.5,306.6 183.6,304.3 182.9,301.9 182.5,299.3 182.2,296.5 182.2,293.5 182.5,290.7 182.9,288.0 183.6,285.6 184.5,283.4 185.5,281.5 186.5,279.9 187.7,278.7 188.9,277.9 190.3,277.6 191.8,278.0"/>
<polygon fill="#ffffff" points="152.9,368.9 159.9,369.5 164.8,374.9 169.8,373.9 175.8,371.5 183.8,370.5 193.8,371.5 201.8,374.9 209.8,378.9 209.8,435.8 197.8,435.8 185.8,434.8 179.8,433.2 175.8,426.8 170.8,415.9 164.8,408.9 159.5,400.9 158.3,390.9 158.9,382.9 156.9,375.9"/>
<polygon fill="#ffffff" points="332.9,270.0 379.8,270.0 379.8,299.0 369.8,296.6 359.8,294.6 349.8,293.0 339.9,291.0 332.3,288.0 330.9,283.0 332.9,277.0"/>
<polygon fill="#ffffff" points="379.8,323.9 369.8,324.9 359.8,326.9 349.8,330.9 341.8,334.9 337.9,340.9 329.9,343.9 319.9,342.9 309.9,345.9 301.9,350.9 289.9,353.9 279.9,351.9 269.9,350.9 259.9,349.9 249.9,348.9 240.9,348.9 240.0,352.9 245.9,358.9 255.9,366.9 269.9,375.9 281.9,379.9 293.9,384.9 309.9,389.9 325.9,390.9 341.8,391.9 353.8,392.9 365.8,395.9 379.8,397.9"/>
<polygon fill="#ffffff" points="189.0,371.9 194.0,372.9 202.0,379.9 210.0,387.9 216.0,395.9 222.0,404.9 220.0,413.3 227.0,422.8 238.0,426.8 240.9,430.8 235.0,433.2 224.0,430.8 214.0,431.8 207.0,435.2 189.0,436.0"/>
<ellipse fill="#ffffff" cx="224.4" cy="334.9" rx="6.6" ry="7.6"/>
<polygon fill="#ffffff" points="328.4,446.5 333.4,445.1 340.3,444.3 349.3,444.1 357.8,444.3 365.8,444.9 371.6,445.6 375.1,446.4 375.1,447.3 371.6,448.3 366.3,449.6 359.3,451.1 352.3,451.3 345.3,450.3 337.9,449.2 329.9,447.9"/>
<polygon fill="#ffffff" points="19.0,87.0 76.4,87.0 76.1,94.0 74.9,98.0 72.9,101.0 65.0,101.5 58.0,102.5 52.0,105.5 45.0,109.0 40.0,112.0 35.0,113.0 30.0,111.0 25.0,106.0 20.5,100.0 19.0,99.0"/>
<polygon fill="#ffffff" points="19.0,146.9 25.0,147.9 30.0,149.9 35.0,152.9 41.0,155.9 47.0,158.4 53.0,160.4 59.0,160.9 64.0,158.9 66.9,155.9 71.9,153.9 78.9,154.9 86.9,156.9 94.9,158.4 99.9,160.9 100.7,163.9 99.9,168.9 100.7,173.9 101.9,179.9 19.0,179.9"/>
<polygon fill="#ffffff" points="19.0,174.5 99.9,174.5 100.4,180.0 101.9,185.0 102.9,195.0 103.4,205.0 105.9,215.0 109.9,225.0 114.4,233.9 114.4,270.9 19.0,270.9"/>
<polygon fill="#ffffff" points="109.5,225.4 114.0,233.9 119.0,240.9 125.0,246.9 131.0,251.9 137.0,255.9 142.0,259.4 146.0,262.9 148.5,266.9 150.5,270.9 109.5,270.9"/>
<polygon fill="#ffffff" points="287.9,86.6 379.8,86.6 379.8,115.6 370.8,113.0 362.8,111.6 356.8,117.6 348.8,122.4 334.9,118.4 319.9,115.6 298.9,116.0 283.9,121.4 274.3,122.6 266.5,118.4 269.9,114.4 278.9,110.0 287.9,106.0 292.9,100.0 289.9,92.0"/>
<polygon fill="#ffffff" points="379.8,182.5 363.8,183.9 349.8,186.9 346.2,195.9 334.3,198.3 329.9,204.3 319.9,210.9 311.9,219.9 310.5,229.9 311.9,238.8 321.9,244.2 325.5,253.8 329.9,262.2 334.3,270.8 379.8,270.8"/>
<polygon fill="#ffff32" points="21.0,288.9 23.0,289.1 25.0,289.4 27.0,289.9 29.0,290.6 31.0,291.4 32.9,292.3 34.6,293.2 36.2,294.2 37.7,295.3 39.0,296.5 40.1,297.7 40.9,299.1 41.6,300.5 41.9,301.9 41.7,303.3 41.2,304.8 40.3,306.3 39.2,307.7 37.9,308.8 36.3,309.8 34.6,310.7 33.0,311.4 31.5,312.1 30.1,312.7 28.9,313.2 27.4,313.6 25.6,313.8 23.6,314.0 21.4,314.0 19.7,312.4 18.6,309.2 18.0,304.4 18.0,298.1 18.5,293.4 19.5,290.3"/>
<polygon fill="#009608" points="158.9,270.0 176.8,270.0 177.4,287.0 172.8,297.0 167.8,305.0 162.8,312.0 157.5,318.0 153.1,319.4 152.7,312.0 154.3,303.0 155.9,291.0 157.5,279.0"/>
<ellipse fill="#009608" cx="169.2" cy="338.5" rx="7.0" ry="20.6"/>
<polygon fill="#009608" points="29.0,345.3 32.0,341.9 37.0,340.9 44.0,344.5 50.0,346.5 58.0,344.1 67.9,344.5 74.9,348.5 77.9,354.9 78.3,361.9 83.9,365.9 93.9,371.9 103.9,377.9 113.9,383.9 121.9,388.9 127.9,391.9 137.9,395.9 141.9,402.9 143.5,414.9 143.5,424.8 147.9,428.8 157.9,426.4 165.8,429.8 169.8,436.8 177.8,443.2 189.8,444.8 209.8,444.4 209.8,476.8 18.0,476.8 18.0,406.9 26.0,411.9 34.0,416.5 46.0,419.3 60.0,423.8 71.9,426.8 78.9,425.8 80.9,422.4 76.9,413.9 69.9,400.9 62.9,387.9 57.0,374.9 51.0,364.9 44.0,357.3 36.0,351.9 30.0,348.9"/>
<polygon fill="#009608" points="277.9,270.0 325.9,270.0 324.3,275.0 317.9,279.4 307.9,280.6 297.9,279.0 287.9,275.0 280.9,272.6"/>
<polygon fill="#009608" points="201.0,270.0 206.0,277.0 212.0,283.0 211.0,291.0 207.0,299.0 204.0,305.0 206.0,311.0 216.0,310.0 225.0,308.0 230.0,309.0 233.0,317.0 240.0,326.9 249.9,333.9 259.9,338.9 273.9,343.3 285.9,340.9 297.9,336.9 307.9,330.9 315.9,324.9 325.9,318.0 335.9,314.0 349.8,313.0 365.8,317.0 379.8,320.0 379.8,299.0 369.8,296.6 359.8,294.6 347.8,293.4 335.9,293.4 325.9,294.6 313.9,296.0 305.9,299.0 297.9,302.0 289.9,303.0 281.9,299.0 273.9,293.0 265.9,288.0 259.9,281.0 258.9,275.0 259.9,270.0"/>
<polygon fill="#009608" points="198.0,360.9 206.0,354.9 218.0,349.3 226.0,353.9 238.0,358.9 249.9,366.9 261.9,375.9 275.9,383.9 293.9,390.9 313.9,398.9 329.9,403.9 345.8,408.9 361.8,408.9 379.8,410.9 379.8,430.8 365.8,428.8 349.8,425.8 329.9,428.8 309.9,429.8 289.9,428.8 273.9,427.8 259.9,425.8 249.9,419.9 240.0,413.9 232.0,404.9 226.0,394.9 218.0,384.9 208.0,374.9 200.0,366.9"/>
<polygon fill="#009608" points="189.0,444.4 210.0,444.4 230.0,443.8 249.9,445.2 265.9,448.8 279.9,451.8 293.9,455.8 309.9,459.8 317.9,476.8 189.0,476.8"/>
<polygon fill="#009608" points="359.8,476.8 369.8,458.8 379.8,456.8 379.8,476.8"/>
<polygon fill="#009608" points="189.0,444.4 210.0,444.4 230.0,443.6 249.9,445.0 265.9,448.0 279.9,451.0 293.9,454.0 309.9,458.0 317.9,461.0 325.9,460.0 339.9,459.0 359.8,459.0 379.8,458.0 379.8,475.9 189.0,475.9"/>
<polygon fill="#009608" points="19.0,117.0 25.0,119.5 32.0,121.5 38.0,120.5 44.0,117.5 50.0,114.5 57.0,111.0 65.0,108.5 72.9,108.0 79.9,108.0 82.9,104.0 83.4,96.0 83.9,90.0 84.9,87.0 114.9,87.0 114.9,179.9 104.9,179.9 105.4,169.9 106.4,163.9 107.9,158.9 108.9,153.9 106.9,149.9 100.9,152.4 94.9,151.9 86.9,150.4 79.9,148.9 72.9,147.9 66.9,148.9 62.0,151.9 55.0,153.9 48.0,152.9 41.0,150.4 35.0,147.9 30.0,144.9 25.0,143.9 19.0,143.9"/>
<polygon fill="#009608" points="110.0,114.0 114.0,110.0 118.0,107.2 123.0,104.2 129.0,102.6 134.0,102.2 139.0,104.0 143.0,107.0 148.0,109.0 152.0,109.5 157.0,110.5 153.0,114.0 148.0,118.0 144.0,123.0 141.2,128.0 141.0,134.0 144.0,138.4 148.5,135.4 153.0,133.0 157.0,135.9 161.9,138.4 167.9,137.9 173.9,139.4 177.9,135.9 179.9,131.0 181.9,127.0 179.9,122.0 179.9,117.0 180.4,113.0 181.9,109.2 189.9,107.5 194.9,108.0 199.9,110.5 204.9,109.0 209.9,107.5 209.9,87.0 109.5,87.0"/>
<polygon fill="#009608" points="105.4,174.5 106.4,185.0 106.4,195.0 107.4,202.0 109.9,210.0 112.4,218.0 114.9,225.0 114.9,174.5"/>
<polygon fill="#009608" points="109.5,214.5 113.0,222.0 117.0,230.9 121.0,236.9 127.0,242.9 133.0,246.9 139.0,251.9 144.0,254.9 148.0,257.9 152.0,261.9 156.0,266.9 158.0,270.9 209.9,270.9 209.9,174.5 109.5,174.5"/>
<polygon fill="#009608" points="189.0,102.0 200.0,103.4 209.0,99.4 214.4,94.0 220.4,86.6 268.9,86.6 263.9,100.0 255.9,110.0 247.9,117.0 240.0,119.0 240.9,124.0 249.9,128.0 259.9,132.3 273.9,130.0 285.9,126.4 297.9,122.4 309.9,121.0 319.9,121.6 333.9,125.0 347.8,129.0 357.8,125.0 363.8,119.0 369.8,117.0 379.8,120.0 379.8,165.9 369.8,162.9 361.8,160.9 353.8,164.9 347.8,167.9 337.9,166.9 325.9,168.9 317.9,173.9 311.9,181.9 305.9,189.9 298.9,193.5 289.9,190.9 285.9,193.9 285.5,199.9 283.9,207.9 281.9,213.9 277.9,219.9 285.9,221.9 293.9,227.9 298.9,235.8 305.9,245.8 313.9,253.8 321.9,260.8 323.9,270.8 189.0,270.8"/>
<polygon fill="#009608" points="185.9,263.0 193.9,265.6 201.9,271.5 208.9,279.9 211.5,287.9 208.9,296.9 203.9,307.9 211.9,310.9 223.9,307.9 229.9,299.9 219.9,279.9 199.9,260.0"/>
<polygon fill="#ffff32" points="367.8,474.3 379.8,468.6 379.8,475.9 367.8,475.9"/>
<polygon fill="#ffff32" points="97.4,110.0 97.9,107.0 101.9,104.0 106.9,102.0 114.9,99.0 114.9,112.0 108.9,113.0 102.9,114.5 98.9,113.0"/>
<polygon fill="#ffff32" points="109.5,97.0 115.0,92.0 120.0,87.5 132.0,87.5 136.0,91.0 143.0,94.0 152.0,94.5 160.0,96.0 167.9,98.0 171.9,101.0 169.9,105.5 165.9,106.5 160.0,104.0 153.0,103.0 147.0,102.5 140.0,101.0 135.0,100.5 128.0,99.0 121.0,100.0 116.0,104.0 109.5,109.0"/>
<polygon fill="#ffff32" points="146.7,127.0 148.2,125.0 150.2,123.2 152.7,121.7 155.5,120.2 158.5,118.7 161.4,117.5 164.4,116.5 167.2,116.6 169.7,117.8 171.4,119.8 172.4,122.6 172.2,125.2 170.7,127.7 168.7,129.5 166.2,130.5 163.2,130.6 159.7,129.8 156.5,129.6 153.5,129.8 150.5,129.5 147.5,128.5"/>
<polygon fill="#ffff32" points="186.9,87.0 209.9,87.0 209.9,99.0 204.9,101.5 199.9,102.5 194.9,100.5 189.9,98.0 187.4,94.0"/>
<polygon fill="#ffff32" points="253.9,183.9 259.9,179.9 266.9,178.9 273.9,183.9 279.9,189.9 282.9,192.9 283.5,199.9 281.5,209.9 277.9,217.9 273.9,223.9 269.9,229.9 265.9,233.8 260.9,227.9 258.9,219.9 253.9,211.9 252.9,199.9 253.9,191.9"/>
<polygon fill="#ffff32" points="259.9,253.8 265.9,245.8 268.9,249.8 269.9,259.8 273.9,270.8 257.9,270.8 258.9,259.8"/>
<polygon fill="#ffff32" points="229.6,180.9 237.0,174.9 240.0,175.9 235.0,183.9"/>
<polygon fill="#ffff32" points="220.0,175.9 226.0,175.5 226.4,178.9 221.0,179.3"/>
<polygon fill="#ffff32" points="243.9,185.9 250.9,185.5 250.9,189.9 244.3,190.3"/>
<polygon fill="#1964d7" points="164.8,270.0 174.2,270.0 173.4,281.0 169.8,291.0 165.8,299.0 162.8,305.4 159.9,304.0 161.0,295.0 163.4,283.0"/>
<ellipse fill="#1964d7" cx="62.9" cy="356.9" rx="10.0" ry="8.4"/>
<polygon fill="#1964d7" points="76.9,370.9 78.9,369.3 85.9,372.5 95.9,378.9 105.9,385.3 115.9,390.5 124.9,395.3 131.9,398.9 137.9,403.9 140.9,410.9 140.9,420.9 142.9,430.8 149.9,431.8 156.9,436.8 159.9,444.8 158.9,453.8 169.8,450.8 179.8,448.8 209.8,449.4 209.8,476.8 18.0,476.8 18.0,419.9 30.0,422.8 42.0,427.8 56.0,433.2 69.9,438.4 83.9,440.4 91.9,441.8 97.9,446.8 109.9,448.8 109.3,443.2 102.9,435.8 95.9,426.8 90.9,418.9 86.9,409.9 79.9,400.9 74.9,390.9 74.3,379.9"/>
<polygon fill="#1964d7" points="206.0,270.0 255.9,270.0 256.9,277.0 255.9,287.0 259.9,295.0 267.9,301.0 277.9,306.0 287.9,310.0 297.9,310.0 304.9,311.0 308.3,316.0 307.9,321.9 301.9,326.9 291.9,330.9 279.9,333.9 269.9,332.9 258.9,330.9 249.9,324.9 241.9,317.0 235.0,307.0 231.0,299.0 227.0,295.0 220.0,297.0 214.0,295.0 215.0,287.0 212.0,281.0 208.0,275.0"/>
<polygon fill="#1964d7" points="205.0,364.9 212.0,361.9 221.0,360.9 230.0,364.9 241.9,372.9 255.9,382.9 269.9,389.9 285.9,394.9 301.9,398.9 317.9,402.9 329.9,406.9 330.9,410.9 321.9,415.9 309.9,419.9 293.9,421.8 277.9,421.2 263.9,419.9 253.9,414.9 245.9,408.9 238.0,398.9 230.0,388.9 220.0,379.9 210.0,370.9"/>
<polygon fill="#1964d7" points="189.0,449.8 210.0,449.2 230.0,449.8 249.9,451.8 261.9,454.4 270.9,457.8 259.9,462.4 245.9,467.4 226.0,474.8 189.0,474.8"/>
<polygon fill="#1964d7" points="189.0,449.6 210.0,449.0 230.0,449.6 249.9,451.6 261.9,454.0 270.9,457.0 259.9,462.0 245.9,467.0 226.0,474.3 189.0,474.3"/>
<polygon fill="#1964d7" points="19.0,121.5 25.0,123.5 32.0,124.0 38.0,122.5 45.0,119.0 52.0,116.0 59.0,113.5 66.9,113.0 72.9,114.0 76.9,117.0 79.9,121.0 83.9,126.0 88.9,128.5 93.9,125.5 97.9,122.5 102.9,119.0 107.9,116.5 114.9,117.0 114.9,139.4 107.9,141.1 104.9,144.4 100.9,146.9 94.9,146.9 86.9,145.4 79.9,143.9 72.9,142.9 66.9,143.9 61.0,146.4 55.0,148.4 49.0,147.9 42.0,145.9 35.0,142.9 30.0,140.4 25.0,138.9 19.0,138.4"/>
<polygon fill="#1964d7" points="108.4,179.9 107.9,173.9 108.4,163.9 109.4,157.9 110.9,153.9 114.9,152.9 114.9,179.9"/>
<polygon fill="#1964d7" points="88.4,87.0 114.9,87.0 114.9,93.0 109.9,96.0 104.9,99.0 99.9,102.5 95.9,106.0 93.9,109.0 91.9,110.0 89.9,106.0 89.4,99.0 88.9,93.0"/>
<polygon fill="#1964d7" points="110.0,114.0 114.0,110.0 118.0,107.2 123.0,104.2 129.0,102.6 134.0,102.2 139.0,104.0 143.0,107.0 148.0,109.0 152.0,109.5 157.0,110.5 153.0,114.0 148.0,118.0 144.0,123.0 141.2,128.0 141.0,134.0 144.0,138.4 148.5,135.4 153.0,133.0 157.0,135.9 161.9,138.4 167.9,137.9 173.9,139.4 177.9,135.9 179.9,131.0 181.9,127.0 179.9,122.0 179.9,117.0 180.4,113.0 181.9,109.2 189.9,107.5 194.9,108.0 199.9,110.5 204.9,109.0 209.9,107.5 209.9,179.9 109.5,179.9"/>
<polygon fill="#1964d7" points="150.0,87.0 177.9,87.0 175.9,90.0 169.9,91.5 161.9,91.2 155.0,89.5"/>
<polygon fill="#1964d7" points="107.9,174.5 108.4,181.0 110.9,179.5 114.9,178.0 114.9,174.5"/>
<polygon fill="#1964d7" points="109.4,193.0 114.9,191.5 114.9,217.0 111.9,211.0 109.4,204.0"/>
<polygon fill="#1964d7" points="109.5,208.0 113.0,215.0 117.0,225.0 121.0,231.9 127.0,237.9 133.0,242.9 139.0,246.9 144.0,250.9 150.0,253.9 154.0,257.9 158.0,262.9 160.4,270.9 209.9,270.9 209.9,174.5 109.5,174.5"/>
<polygon fill="#1964d7" points="189.0,108.0 202.0,110.0 212.0,105.0 222.0,98.0 230.0,97.0 237.0,102.0 235.0,108.0 228.0,114.0 223.0,120.0 226.0,126.0 236.0,130.0 247.9,133.5 259.9,135.9 273.9,133.9 285.9,130.0 297.9,126.4 309.9,125.0 319.9,125.6 333.9,129.0 347.8,133.5 357.8,130.0 364.8,123.0 369.8,121.0 379.8,125.0 379.8,159.5 369.8,156.9 361.8,155.5 353.8,158.9 345.8,161.9 335.9,161.5 325.9,162.9 317.9,165.9 309.9,172.9 303.9,179.9 293.9,180.9 283.9,177.9 277.9,171.9 269.9,167.9 259.9,165.9 249.9,166.3 241.9,168.9 233.0,167.9 227.0,163.9 223.0,161.9 220.0,165.9 214.0,167.9 210.0,163.9 205.6,168.9 204.4,177.9 209.0,184.9 218.0,186.9 227.0,189.5 231.0,193.9 229.0,201.9 224.0,209.9 220.0,219.9 219.0,229.9 222.0,237.8 230.0,235.8 236.0,229.9 239.0,221.9 240.9,217.9 244.9,219.9 247.9,231.8 255.9,236.8 259.9,245.8 257.9,255.8 256.9,270.8 189.0,270.8"/>
<polygon fill="#1964d7" points="279.4,232.8 282.4,230.8 285.4,231.8 288.4,235.8 291.9,240.3 295.9,245.3 299.9,249.8 303.9,253.8 307.4,257.8 310.4,261.8 310.9,265.1 308.9,267.6 305.4,269.1 300.4,269.6 295.4,269.3 290.4,268.3 286.7,265.3 284.2,260.3 282.2,254.8 280.7,248.8 279.4,242.8 278.4,236.8"/>
<polygon fill="#009608" points="18.0,444.0 30.0,450.0 40.0,459.0 48.0,468.0 51.4,475.9 18.0,475.9"/>
<polygon fill="#009608" points="158.9,440.0 160.2,457.6 167.8,458.0 172.8,452.0 169.8,444.0"/>
<polygon fill="#009608" points="120.7,116.7 122.2,114.2 124.5,112.5 127.5,111.5 130.0,111.5 132.0,112.5 133.2,114.2 133.7,116.7 134.2,119.5 134.7,122.5 134.2,124.5 132.7,125.5 130.7,125.8 128.2,125.6 126.0,124.8 124.0,123.6 122.2,121.7 120.7,119.2"/>
<polygon fill="#009608" points="109.5,140.9 113.0,142.9 114.0,147.9 112.0,152.9 109.5,153.9"/>
<polygon fill="#009608" points="131.0,149.9 132.5,153.9 129.0,159.9 125.0,163.9 122.0,167.9 120.0,173.9 118.0,179.9 115.0,179.9 116.0,171.9 119.0,165.9 123.0,160.9 127.0,154.9"/>
<polygon fill="#009608" points="160.9,170.9 165.9,168.9 170.9,170.9 174.9,175.9 177.9,179.9 169.9,179.9 163.9,174.9"/>
<polygon fill="#009608" points="203.9,170.9 209.9,165.4 209.9,179.9 204.9,179.9"/>
<polygon fill="#009608" points="109.5,169.0 119.0,169.0 121.0,174.5 122.5,179.0 122.0,185.0 121.0,194.0 116.0,192.5 112.0,192.0 109.5,194.0"/>
<polygon fill="#009608" points="122.0,197.5 125.0,198.2 127.0,203.0 130.0,209.0 133.5,215.0 138.0,219.0 144.0,222.0 149.5,224.2 155.0,228.9 161.9,235.9 167.9,241.9 173.9,246.9 178.9,251.9 181.9,255.9 186.9,258.9 192.9,259.9 196.9,259.9 201.9,262.9 209.9,266.4 209.9,270.9 169.9,270.9 168.9,264.9 165.9,258.9 161.9,253.9 157.0,249.9 152.0,244.9 148.5,239.9 144.0,234.9 138.0,231.4 131.5,229.4 128.5,225.0 126.5,218.0 124.0,211.0 122.2,204.0"/>
<polygon fill="#009608" points="162.9,174.5 173.9,174.5 179.9,179.0 184.9,185.0 188.9,192.0 190.9,198.0 189.9,204.0 186.9,205.0 183.9,202.0 181.9,195.0 177.9,188.0 171.9,182.0 165.9,177.5"/>
<polygon fill="#009608" points="204.9,174.5 209.9,174.5 209.9,179.0 205.9,178.0"/>
<polygon fill="#009608" points="207.4,199.0 209.9,197.0 209.9,207.0 207.9,205.0"/>
<ellipse fill="#009608" cx="211.6" cy="200.9" rx="4.4" ry="5.2"/>
<polygon fill="#ffff32" points="18.0,459.0 26.0,463.0 30.0,469.0 32.0,475.9 18.0,475.9"/>
<polygon fill="#ffff32" points="154.0,238.9 157.0,237.4 160.9,239.9 164.9,243.9 162.9,245.9 158.0,244.9 155.0,241.9"/>
<ellipse fill="#ffff32" cx="172.9" cy="254.9" rx="1.2" ry="1.2"/>
<polygon fill="#ffff32" points="174.9,259.9 176.9,257.9 178.9,261.9 179.9,266.9 178.9,270.9 175.9,270.9 174.9,264.9"/>
<polygon fill="#ffff32" points="176.9,270.9 178.9,266.4 183.9,264.9 188.9,265.4 192.9,267.9 193.9,270.9"/>
<polygon fill="#2f1ea5" points="115.1,412.6 117.6,411.2 120.4,410.6 123.4,410.8 126.1,411.9 128.6,413.9 130.6,416.9 132.1,420.9 134.1,424.8 136.6,428.8 139.4,432.8 142.4,436.8 144.9,439.8 146.9,441.8 145.9,443.1 141.9,443.6 137.9,442.8 133.9,440.8 129.9,438.3 125.9,435.3 122.1,432.3 118.6,429.3 115.7,426.1 113.4,422.6 112.7,419.0 113.5,415.2"/>
<polygon fill="#2f1ea5" points="224.0,270.0 247.9,270.0 248.3,277.0 243.9,283.0 238.0,288.0 232.0,289.0 228.0,284.0 225.6,277.0"/>
<polygon fill="#2f1ea5" points="244.4,296.0 246.1,297.3 247.4,299.7 248.4,303.2 250.7,306.7 254.2,310.2 258.4,312.5 263.4,313.5 267.4,314.7 270.4,316.2 272.4,318.0 273.4,320.0 272.4,321.4 269.4,322.4 265.9,322.7 261.9,322.2 257.9,320.7 253.9,318.2 250.7,315.5 248.2,312.5 246.2,309.0 244.7,305.0 243.8,301.1 243.6,297.3"/>
<ellipse fill="#2f1ea5" cx="263.9" cy="403.3" rx="7.6" ry="3.6" transform="rotate(20 263.9 403.3)"/>
<polygon fill="#2f1ea5" points="28.0,133.0 35.0,131.0 43.0,128.5 50.0,125.5 57.0,123.5 63.0,122.8 67.9,123.5 71.9,127.0 75.9,132.0 73.9,134.0 68.9,133.0 64.0,132.2 59.0,134.0 53.0,137.4 46.0,138.9 40.0,138.7 35.0,136.9 31.0,134.9"/>
<polygon fill="#2f1ea5" points="88.4,138.4 93.9,134.9 98.9,131.0 104.9,128.0 110.9,127.0 114.9,128.0 114.9,134.0 109.9,134.0 104.9,136.9 100.9,139.9 96.9,140.9 92.9,139.4"/>
<polygon fill="#2f1ea5" points="94.9,87.0 103.4,87.0 101.9,90.0 98.9,94.0 96.9,92.0"/>
<polygon fill="#2f1ea5" points="109.5,127.0 115.0,127.0 121.0,130.0 127.0,133.0 126.0,137.9 125.0,143.9 122.0,149.9 118.0,155.9 116.0,157.9 117.0,151.9 119.0,143.9 117.0,136.9 113.0,133.0 109.5,134.0"/>
<polygon fill="#2f1ea5" points="131.0,133.0 136.0,131.0 135.5,136.4"/>
<polygon fill="#2f1ea5" points="151.0,141.9 154.0,145.9 153.0,151.9 150.0,155.9 147.0,159.9 145.0,165.9 142.0,168.9 136.0,169.9 133.0,173.9 132.0,179.9 128.0,179.9 130.0,171.9 133.0,165.9 135.0,159.9 139.0,153.9 143.0,148.9 147.0,144.9"/>
<polygon fill="#2f1ea5" points="186.9,118.5 190.9,119.0 194.9,124.0 199.9,127.5 195.9,129.0 191.9,128.0 188.9,124.0"/>
<polygon fill="#2f1ea5" points="183.9,137.9 188.9,133.0 187.4,139.9 184.9,141.9"/>
<polygon fill="#2f1ea5" points="168.4,148.4 171.9,148.9 170.9,152.9 168.9,151.9"/>
<polygon fill="#2f1ea5" points="175.9,164.9 181.9,160.9 186.9,156.9 188.9,153.9 192.9,156.9 193.9,161.9 191.9,166.9 187.9,169.4 183.9,166.9 179.9,166.9"/>
<polygon fill="#2f1ea5" points="127.0,176.0 131.0,175.0 135.0,178.0 134.0,182.0 130.0,186.0 127.5,183.0"/>
<polygon fill="#2f1ea5" points="145.5,185.0 150.0,181.0 155.0,181.0 154.5,186.0 150.5,190.5"/>
<polygon fill="#2f1ea5" points="116.0,204.0 117.5,205.0 119.5,213.0 121.0,221.0 119.5,221.5 117.5,215.0 116.0,209.0"/>
<polygon fill="#2f1ea5" points="136.0,209.0 139.0,208.0 144.0,210.5 150.0,214.0 156.0,217.0 160.9,219.0 163.9,223.0 166.9,227.9 170.9,231.9 171.9,234.9 168.9,235.9 164.9,232.9 160.9,228.9 157.0,224.0 153.0,220.0 148.0,217.0 142.0,215.0 138.0,213.0"/>
<polygon fill="#2f1ea5" points="167.9,215.0 173.9,213.0 179.9,215.0 184.9,220.0 187.9,225.0 189.9,230.9 192.9,233.9 189.9,235.9 185.9,233.9 182.9,228.9 179.9,224.0 174.9,219.0 169.9,217.0"/>
<polygon fill="#2f1ea5" points="196.9,230.9 199.9,227.9 204.9,228.9 209.9,231.9 209.9,250.9 206.9,244.9 203.9,238.9 199.9,234.9"/>
<polygon fill="#2f1ea5" points="202.9,257.9 205.9,254.9 209.9,255.9 209.9,263.9 205.9,262.9"/>
<polygon fill="#2f1ea5" points="137.0,238.9 140.0,237.9 145.0,239.9 148.0,243.9 145.0,244.9 140.0,241.9"/>
<polygon fill="#2f1ea5" points="160.9,258.9 163.9,257.9 165.9,262.9 166.9,270.9 163.9,270.9 162.9,263.9"/>
<polygon fill="#2f1ea5" points="260.9,148.9 269.9,143.9 281.9,141.9 293.9,138.9 305.9,134.9 313.9,132.3 323.9,132.3 330.9,134.9 329.9,139.9 321.9,137.9 313.9,137.9 307.9,143.9 301.9,150.9 295.9,157.9 289.9,156.9 279.9,154.9 269.9,154.9 263.9,152.9"/>
<polygon fill="#2f1ea5" points="222.0,141.9 233.0,137.9 230.0,145.9 225.0,151.9"/>
<polygon fill="#2f1ea5" points="189.0,119.0 196.0,123.0 200.0,128.0 192.0,129.0 189.0,127.0"/>
<polygon fill="#2f1ea5" points="189.0,153.9 194.0,156.9 192.0,163.9 189.0,163.9"/>
<polygon fill="#2f1ea5" points="198.0,228.9 204.0,227.9 210.0,237.8 212.0,249.8 216.0,255.8 210.0,259.8 204.0,253.8 200.0,239.8"/>
<polygon fill="#2f1ea5" points="225.0,245.8 233.0,237.8 239.0,234.8 240.9,239.8 237.0,249.8 239.0,259.8 247.9,265.8 249.9,270.8 220.0,270.8 223.0,259.8"/>
<use href="#ml" x="0.0" y="0.0" shape-rendering="auto"/>
</g>
<rect x="19.7" y="87.0" width="359.3" height="387.6" fill="none" stroke="#000" stroke-width="1.3"/>
<line x1="17.2" x2="19.7" y1="87.0" y2="87.0" stroke="#000" stroke-width="1"/>
<text x="14.7" y="90.4" text-anchor="end" font-size="9.3" font-weight="bold" textLength="13.2" lengthAdjust="spacingAndGlyphs">15N</text>
<line x1="17.2" x2="19.7" y1="112.8" y2="112.8" stroke="#000" stroke-width="1"/>
<text x="14.7" y="116.2" text-anchor="end" font-size="9.3" font-weight="bold" textLength="13.2" lengthAdjust="spacingAndGlyphs">10N</text>
<line x1="17.2" x2="19.7" y1="138.7" y2="138.7" stroke="#000" stroke-width="1"/>
<text x="14.7" y="142.1" text-anchor="end" font-size="9.3" font-weight="bold" textLength="9.2" lengthAdjust="spacingAndGlyphs">5N</text>
<line x1="17.2" x2="19.7" y1="164.5" y2="164.5" stroke="#000" stroke-width="1"/>
<text x="14.7" y="167.9" text-anchor="end" font-size="9.3" font-weight="bold" textLength="9.2" lengthAdjust="spacingAndGlyphs">EQ</text>
<line x1="17.2" x2="19.7" y1="190.4" y2="190.4" stroke="#000" stroke-width="1"/>
<text x="14.7" y="193.8" text-anchor="end" font-size="9.3" font-weight="bold" textLength="9.2" lengthAdjust="spacingAndGlyphs">5S</text>
<line x1="17.2" x2="19.7" y1="216.2" y2="216.2" stroke="#000" stroke-width="1"/>
<text x="14.7" y="219.6" text-anchor="end" font-size="9.3" font-weight="bold" textLength="13.2" lengthAdjust="spacingAndGlyphs">10S</text>
<line x1="17.2" x2="19.7" y1="242.0" y2="242.0" stroke="#000" stroke-width="1"/>
<text x="14.7" y="245.4" text-anchor="end" font-size="9.3" font-weight="bold" textLength="13.2" lengthAdjust="spacingAndGlyphs">15S</text>
<line x1="17.2" x2="19.7" y1="267.9" y2="267.9" stroke="#000" stroke-width="1"/>
<text x="14.7" y="271.3" text-anchor="end" font-size="9.3" font-weight="bold" textLength="13.2" lengthAdjust="spacingAndGlyphs">20S</text>
<line x1="17.2" x2="19.7" y1="293.7" y2="293.7" stroke="#000" stroke-width="1"/>
<text x="14.7" y="297.1" text-anchor="end" font-size="9.3" font-weight="bold" textLength="13.2" lengthAdjust="spacingAndGlyphs">25S</text>
<line x1="17.2" x2="19.7" y1="319.6" y2="319.6" stroke="#000" stroke-width="1"/>
<text x="14.7" y="323.0" text-anchor="end" font-size="9.3" font-weight="bold" textLength="13.2" lengthAdjust="spacingAndGlyphs">30S</text>
<line x1="17.2" x2="19.7" y1="345.4" y2="345.4" stroke="#000" stroke-width="1"/>
<text x="14.7" y="348.8" text-anchor="end" font-size="9.3" font-weight="bold" textLength="13.2" lengthAdjust="spacingAndGlyphs">35S</text>
<line x1="17.2" x2="19.7" y1="371.2" y2="371.2" stroke="#000" stroke-width="1"/>
<text x="14.7" y="374.6" text-anchor="end" font-size="9.3" font-weight="bold" textLength="13.2" lengthAdjust="spacingAndGlyphs">40S</text>
<line x1="17.2" x2="19.7" y1="397.1" y2="397.1" stroke="#000" stroke-width="1"/>
<text x="14.7" y="400.5" text-anchor="end" font-size="9.3" font-weight="bold" textLength="13.2" lengthAdjust="spacingAndGlyphs">45S</text>
<line x1="17.2" x2="19.7" y1="422.9" y2="422.9" stroke="#000" stroke-width="1"/>
<text x="14.7" y="426.3" text-anchor="end" font-size="9.3" font-weight="bold" textLength="13.2" lengthAdjust="spacingAndGlyphs">50S</text>
<line x1="17.2" x2="19.7" y1="448.8" y2="448.8" stroke="#000" stroke-width="1"/>
<text x="14.7" y="452.2" text-anchor="end" font-size="9.3" font-weight="bold" textLength="13.2" lengthAdjust="spacingAndGlyphs">55S</text>
<line x1="17.2" x2="19.7" y1="474.6" y2="474.6" stroke="#000" stroke-width="1"/>
<text x="14.7" y="478.0" text-anchor="end" font-size="9.3" font-weight="bold" textLength="13.2" lengthAdjust="spacingAndGlyphs">60S</text>
<line x1="24.6" x2="24.6" y1="474.6" y2="477.1" stroke="#000" stroke-width="1"/>
<text x="24.6" y="485.7" text-anchor="middle" font-size="9.3" font-weight="bold" textLength="18.2" lengthAdjust="spacingAndGlyphs">100W</text>
<line x1="64.5" x2="64.5" y1="474.6" y2="477.1" stroke="#000" stroke-width="1"/>
<text x="64.5" y="485.7" text-anchor="middle" font-size="9.3" font-weight="bold" textLength="13.6" lengthAdjust="spacingAndGlyphs">90W</text>
<line x1="104.4" x2="104.4" y1="474.6" y2="477.1" stroke="#000" stroke-width="1"/>
<text x="104.4" y="485.7" text-anchor="middle" font-size="9.3" font-weight="bold" textLength="13.6" lengthAdjust="spacingAndGlyphs">80W</text>
<line x1="144.3" x2="144.3" y1="474.6" y2="477.1" stroke="#000" stroke-width="1"/>
<text x="144.3" y="485.7" text-anchor="middle" font-size="9.3" font-weight="bold" textLength="13.6" lengthAdjust="spacingAndGlyphs">70W</text>
<line x1="184.2" x2="184.2" y1="474.6" y2="477.1" stroke="#000" stroke-width="1"/>
<text x="184.2" y="485.7" text-anchor="middle" font-size="9.3" font-weight="bold" textLength="13.6" lengthAdjust="spacingAndGlyphs">60W</text>
<line x1="224.2" x2="224.2" y1="474.6" y2="477.1" stroke="#000" stroke-width="1"/>
<text x="224.2" y="485.7" text-anchor="middle" font-size="9.3" font-weight="bold" textLength="13.6" lengthAdjust="spacingAndGlyphs">50W</text>
<line x1="264.1" x2="264.1" y1="474.6" y2="477.1" stroke="#000" stroke-width="1"/>
<text x="264.1" y="485.7" text-anchor="middle" font-size="9.3" font-weight="bold" textLength="13.6" lengthAdjust="spacingAndGlyphs">40W</text>
<line x1="304.0" x2="304.0" y1="474.6" y2="477.1" stroke="#000" stroke-width="1"/>
<text x="304.0" y="485.7" text-anchor="middle" font-size="9.3" font-weight="bold" textLength="13.6" lengthAdjust="spacingAndGlyphs">30W</text>
<line x1="343.9" x2="343.9" y1="474.6" y2="477.1" stroke="#000" stroke-width="1"/>
<text x="343.9" y="485.7" text-anchor="middle" font-size="9.3" font-weight="bold" textLength="13.6" lengthAdjust="spacingAndGlyphs">20W</text>
<polygon points="419.6,240.2 425.5,210.9 431.3,240.2" fill="#2f1ea5" stroke="#000" stroke-width="1"/>
<rect x="419.6" y="240.2" width="11.7" height="27.6" fill="#1964d7" stroke="#000" stroke-width="1"/>
<rect x="419.6" y="267.8" width="11.7" height="27.9" fill="#009608" stroke="#000" stroke-width="1"/>
<rect x="419.6" y="295.7" width="11.7" height="27.8" fill="#ffff32" stroke="#000" stroke-width="1"/>
<polygon points="419.6,323.5 425.5,351.5 431.3,323.5" fill="#fff" stroke="#000" stroke-width="1"/>
<text x="433.3" y="243.8" font-size="11.4" font-weight="bold">95</text>
<text x="433.3" y="271.4" font-size="11.4" font-weight="bold">65</text>
<text x="433.3" y="299.3" font-size="11.4" font-weight="bold">35</text>
<text x="433.3" y="327.1" font-size="11.4" font-weight="bold">5</text>
<g clip-path="url(#c2)" shape-rendering="crispEdges">
<rect x="565.0" y="87.0" width="359.3" height="387.6" fill="#ffffff"/>
<polygon fill="#ffff32" points="563.0,110.0 575.0,115.0 585.0,117.0 595.0,116.4 605.0,115.0 612.9,112.6 618.9,114.4 623.9,120.0 627.9,123.6 630.9,121.0 629.9,114.0 626.9,106.0 625.3,96.0 624.9,86.0 731.8,86.0 728.8,92.0 734.8,98.0 754.8,98.0 754.8,271.8 703.9,271.8 698.9,263.8 692.9,257.8 684.9,251.8 676.9,245.8 668.9,237.8 663.9,231.8 658.9,219.9 654.9,209.9 650.9,199.9 648.9,191.9 647.9,179.9 648.9,169.9 650.9,161.9 647.9,156.9 642.9,155.9 634.9,152.9 624.9,149.9 614.9,149.9 608.9,150.9 603.0,154.9 595.0,152.9 585.0,147.9 575.0,142.9 563.0,137.9"/>
<polygon fill="#ffff32" points="734.0,100.0 747.0,99.0 757.0,95.0 765.0,90.0 769.0,86.6 831.9,86.6 828.9,92.0 820.9,100.0 812.9,106.0 804.9,112.0 796.9,116.0 789.9,123.0 796.9,127.0 806.9,128.0 818.9,129.0 830.9,126.0 842.9,121.0 854.9,119.0 866.9,120.0 878.9,123.0 890.8,126.0 902.8,125.0 907.8,122.0 908.8,115.0 914.8,114.0 924.8,116.0 924.8,164.9 914.8,163.9 904.8,165.9 894.8,167.9 886.8,167.9 874.9,166.9 866.9,168.9 858.9,172.9 850.9,177.9 849.9,181.9 856.9,185.9 862.9,190.9 864.9,197.9 860.9,202.9 852.9,203.9 843.9,201.9 836.9,200.9 833.9,207.9 828.9,211.9 822.9,219.9 817.9,227.9 814.9,237.8 814.9,249.8 812.9,259.8 808.9,271.8 734.0,271.8"/>
<polygon fill="#ffff32" points="822.9,233.8 826.9,223.9 833.9,219.9 838.9,221.9 841.9,231.8 844.9,241.8 850.9,245.8 858.9,245.8 864.9,251.8 867.9,261.8 868.9,271.8 827.9,271.8 825.9,259.8 827.9,249.8 824.9,239.8"/>
<polygon fill="#ffff32" points="700.9,270.0 720.8,270.0 720.4,283.0 721.8,295.0 724.4,311.0 724.8,326.9 724.8,338.9 728.8,344.9 735.8,347.9 741.8,350.9 743.8,356.9 740.8,362.9 734.8,366.9 726.8,365.9 720.8,368.9 714.8,368.9 708.8,363.9 702.9,358.9 696.9,360.9 692.9,354.9 691.9,340.9 690.9,326.9 691.9,315.0 694.9,305.0 697.9,295.0 699.3,283.0"/>
<polygon fill="#ffff32" points="565.5,419.4 570.5,419.7 574.7,420.9 578.2,422.8 580.7,425.1 582.2,427.6 582.2,430.3 580.7,433.3 578.7,435.3 576.2,436.3 573.0,436.1 569.0,434.6 566.0,433.1 564.0,431.6 563.0,427.9 563.0,422.1"/>
<polygon fill="#ffff32" points="647.9,412.4 649.9,407.4 653.4,403.1 658.4,399.6 663.4,397.1 668.4,395.6 672.9,394.6 676.9,394.1 680.4,395.1 683.4,397.6 685.1,401.9 685.6,407.9 685.1,413.9 683.6,419.9 682.9,424.8 682.9,428.8 684.9,432.3 688.9,435.3 691.9,438.8 693.9,442.8 694.4,446.8 693.4,450.8 691.9,454.6 689.9,458.1 686.9,459.8 682.9,459.8 678.4,459.1 673.4,457.6 668.9,455.3 664.9,452.3 661.4,448.3 658.4,443.3 655.4,438.3 652.4,433.3 650.0,428.8 648.2,424.8 647.2,420.9 647.0,416.9"/>
<polygon fill="#ffff32" points="695.9,421.6 697.9,419.1 699.9,418.4 701.9,419.4 703.1,422.1 703.6,426.6 702.9,430.3 700.9,433.3 698.9,434.3 696.9,433.3 695.6,430.3 695.1,425.3"/>
<polygon fill="#ffff32" points="740.0,270.0 809.9,270.0 811.9,279.0 814.9,289.0 818.9,297.0 828.9,301.0 840.9,300.0 852.9,299.0 864.9,303.0 874.9,306.0 878.9,309.0 878.5,319.0 884.9,321.9 889.2,324.9 884.9,328.9 880.9,334.9 874.9,339.9 862.9,340.9 852.9,341.9 846.9,346.9 834.9,348.9 822.9,349.9 810.9,346.9 800.9,342.9 792.9,336.9 785.0,328.9 779.0,322.9 773.0,321.0 769.0,323.9 763.0,325.9 755.0,324.9 751.0,321.0 745.0,315.0 744.0,307.0 746.0,299.0 745.0,289.0 744.0,279.0"/>
<polygon fill="#ffff32" points="747.0,330.9 753.0,327.9 756.6,330.9 756.0,337.9 751.0,342.9 746.6,339.9"/>
<polygon fill="#ffff32" points="851.9,270.0 867.9,270.0 866.9,274.0 860.9,276.6 854.9,275.0"/>
<polygon fill="#ffff32" points="734.0,349.9 739.0,349.9 743.0,354.9 741.0,360.9 734.0,364.9"/>
<polygon fill="#ffff32" points="743.0,358.9 747.0,352.9 755.0,346.9 765.0,341.9 773.0,348.9 779.0,358.9 788.9,368.9 798.9,376.9 810.9,384.9 822.9,389.9 834.9,391.9 846.9,391.9 858.9,395.9 870.9,399.9 882.9,404.9 894.8,407.9 908.8,408.9 914.8,416.9 924.8,421.8 924.8,433.8 914.8,435.8 906.8,438.8 894.8,438.8 874.9,438.4 858.9,438.8 848.9,441.8 838.9,438.8 826.9,435.8 814.9,430.8 800.9,425.8 788.9,422.8 780.0,419.9 778.0,410.9 775.0,400.9 772.0,390.9 765.0,384.9 755.0,376.9 747.0,368.9"/>
<polygon fill="#ffffff" points="666.9,95.0 670.9,92.4 678.9,93.0 679.9,97.0 674.9,100.0 668.9,99.0"/>
<polygon fill="#ffffff" points="642.9,108.0 648.9,104.0 658.9,103.0 664.9,105.0 662.9,110.0 654.9,112.0 645.9,112.0"/>
<polygon fill="#ffffff" points="682.9,100.4 690.9,98.4 700.9,100.0 712.8,103.6 721.8,107.6 724.8,103.0 727.2,96.0 731.8,86.0 754.8,86.0 754.8,98.0 734.8,98.0 728.8,102.0 726.8,110.0 718.8,110.0 706.8,107.0 694.9,105.0 684.9,104.0"/>
<polygon fill="#ffffff" points="703.9,121.0 706.8,116.0 712.8,115.6 713.8,122.0 709.8,126.0 704.9,125.6"/>
<polygon fill="#ffffff" points="807.9,195.9 812.9,193.9 817.3,196.9 815.9,201.9 809.9,202.3"/>
<polygon fill="#ffffff" points="816.9,217.9 820.9,213.9 823.9,215.9 820.9,223.9 817.3,224.9"/>
<polygon fill="#009608" points="563.0,119.0 575.0,121.0 585.0,123.0 595.0,124.4 605.0,127.0 612.9,129.0 620.9,128.0 630.9,125.0 638.9,123.0 642.9,119.0 650.9,118.0 658.9,120.0 660.9,123.0 666.9,125.0 672.9,128.0 678.9,126.0 682.9,120.0 686.9,115.0 694.9,112.0 700.9,115.0 698.9,120.0 692.9,126.0 688.9,130.0 692.9,133.9 698.9,135.9 706.8,134.9 714.8,132.9 720.8,128.0 724.8,120.0 728.8,114.0 734.8,111.0 744.8,110.0 754.8,110.0 754.8,271.8 703.9,271.8 700.9,263.8 694.9,255.8 686.9,249.8 678.9,242.8 670.9,235.8 664.9,225.9 658.9,211.9 655.9,199.9 653.9,187.9 651.9,175.9 652.9,165.9 653.9,155.9 652.9,145.9 644.9,148.9 634.9,146.9 624.9,143.5 614.9,142.3 605.0,143.9 595.0,144.9 585.0,143.9 575.0,139.9 563.0,135.9"/>
<polygon fill="#009608" points="637.9,86.0 638.9,94.0 644.9,99.0 652.9,98.0 660.9,92.0 663.9,86.0"/>
<polygon fill="#009608" points="734.0,112.0 745.0,111.0 759.0,108.0 767.0,104.0 775.0,102.4 780.0,105.0 775.0,112.0 768.0,120.0 767.0,128.0 773.0,133.9 783.0,136.9 794.9,137.9 806.9,139.9 818.9,139.9 830.9,136.9 840.9,130.9 850.9,127.0 862.9,125.0 874.9,128.0 886.8,131.9 900.8,132.9 912.8,130.9 924.8,127.0 924.8,156.9 914.8,154.9 904.8,153.9 894.8,155.9 882.9,156.9 870.9,155.9 862.9,156.9 852.9,160.9 843.9,166.9 834.9,169.9 824.9,167.9 814.9,163.9 802.9,159.9 790.9,156.9 781.0,156.9 777.0,159.9 778.0,165.9 773.0,167.9 770.0,163.9 765.0,167.9 760.0,171.5 755.0,167.9 750.0,159.9 747.0,153.5 743.0,156.3 734.0,156.3"/>
<polygon fill="#009608" points="734.0,156.3 743.0,156.3 742.6,165.9 744.0,175.9 749.0,181.9 757.0,182.9 760.6,187.9 755.0,191.9 754.6,199.9 760.0,201.9 767.0,197.9 774.0,190.9 778.0,187.9 782.0,189.9 783.0,199.9 787.9,201.9 793.9,199.9 794.9,207.9 792.9,215.9 790.9,223.9 792.9,235.8 798.9,239.8 801.9,245.8 800.9,255.8 798.9,265.8 796.9,271.8 734.0,271.8"/>
<polygon fill="#009608" points="703.9,270.0 720.8,270.0 719.2,279.0 715.8,289.0 710.8,301.0 706.8,309.0 702.9,312.0 701.9,307.0 703.3,295.0 704.5,283.0"/>
<polygon fill="#009608" points="656.6,416.9 658.1,412.9 660.9,409.4 664.9,406.4 668.4,404.1 671.4,402.6 673.9,403.1 675.9,405.6 677.6,408.9 679.1,412.9 679.6,416.9 679.1,420.9 679.1,424.8 679.6,428.8 681.6,432.8 685.1,436.8 688.4,440.8 691.4,444.8 691.4,447.3 688.4,448.3 684.9,448.6 680.9,448.1 676.9,446.6 672.9,444.1 669.1,441.3 665.6,438.3 662.6,434.8 660.1,430.8 658.1,426.3 656.6,421.3"/>
<polygon fill="#009608" points="750.0,270.0 802.9,270.0 803.9,283.0 805.9,293.0 810.9,301.0 818.9,308.0 830.9,311.0 842.9,317.0 850.9,316.0 856.9,319.0 857.3,323.9 852.9,328.9 842.9,333.9 830.9,336.9 818.9,336.9 810.9,333.9 804.9,327.9 800.9,321.0 792.9,318.0 785.0,316.0 779.0,311.0 776.0,305.0 774.0,309.0 765.0,308.0 757.0,305.0 754.0,299.0 755.0,289.0 753.0,279.0"/>
<polygon fill="#009608" points="760.7,365.4 762.2,362.4 764.2,360.4 766.7,359.4 769.5,360.2 772.5,362.7 775.0,366.2 777.0,370.7 777.5,373.9 776.5,375.9 774.2,377.1 770.7,377.6 767.2,376.9 763.7,374.9 761.5,372.1 760.5,368.7"/>
<polygon fill="#009608" points="793.7,400.4 797.2,399.4 802.9,399.1 810.9,399.6 818.9,400.4 826.9,401.4 834.9,402.6 842.9,404.1 849.9,406.1 855.9,408.6 860.9,411.6 864.9,415.1 866.6,418.1 866.1,420.6 863.6,422.6 859.1,424.1 853.4,424.8 846.4,424.8 839.4,424.6 832.4,424.1 825.4,422.6 818.4,420.1 811.9,417.6 805.9,415.1 800.9,412.4 796.9,409.4 794.2,406.1 792.7,402.6"/>
<polygon fill="#ffff32" points="768.0,201.9 774.0,199.9 778.0,207.9 775.0,215.9 773.0,223.9 773.0,233.8 770.0,239.8 767.0,235.8 767.0,223.9 765.0,215.9 767.0,207.9"/>
<polygon fill="#ffff32" points="777.0,191.9 782.0,191.9 783.0,207.9 780.0,211.9 776.0,207.9"/>
<polygon fill="#ffff32" points="734.0,253.8 739.0,255.8 743.0,263.8 745.0,271.8 734.0,271.8"/>
<polygon fill="#1964d7" points="641.9,86.0 642.9,92.0 646.9,95.0 652.9,93.0 656.9,86.0"/>
<polygon fill="#1964d7" points="563.0,125.0 575.0,125.0 585.0,127.0 594.0,129.0 598.0,133.9 594.0,138.9 585.0,139.9 575.0,137.9 563.0,133.9"/>
<polygon fill="#1964d7" points="633.9,137.9 640.9,132.9 648.9,130.0 656.9,128.0 660.9,125.0 666.9,127.0 674.9,130.0 682.9,132.9 686.9,137.9 689.9,134.9 694.9,136.9 698.9,137.9 706.8,137.5 714.8,135.5 722.8,130.0 726.8,123.0 730.8,118.0 738.8,117.0 744.8,121.0 747.8,130.0 754.8,131.9 754.8,271.8 738.8,271.8 738.8,259.8 730.8,257.8 724.8,251.8 714.8,243.8 706.8,235.8 698.9,227.9 692.9,222.9 684.9,219.9 678.9,213.9 674.9,205.9 670.9,197.9 668.9,187.9 670.9,175.9 674.9,167.9 672.9,163.9 666.9,167.9 663.9,175.9 660.9,179.9 656.9,177.9 654.9,167.9 655.9,159.9 658.9,153.9 656.9,147.9 650.9,145.9 642.9,144.9 636.9,142.9"/>
<polygon fill="#1964d7" points="656.9,197.9 660.9,194.9 664.9,199.9 666.9,209.9 670.9,219.9 676.9,227.9 684.9,233.8 692.9,237.8 698.9,245.8 706.8,253.8 712.8,261.8 714.8,271.8 706.8,271.8 702.9,263.8 694.9,255.8 686.9,249.8 678.9,242.8 670.9,235.8 665.9,227.9 660.9,217.9 657.9,207.9"/>
<polygon fill="#1964d7" points="734.0,114.0 741.0,118.0 745.0,124.0 747.0,130.0 743.0,132.9 737.0,133.9 734.0,134.9"/>
<polygon fill="#1964d7" points="757.0,133.9 765.0,137.9 772.0,147.9 774.0,155.9 770.0,161.9 765.0,159.9 761.0,149.9 758.0,141.9"/>
<polygon fill="#1964d7" points="741.0,196.9 747.0,193.9 753.0,197.9 754.6,204.9 762.0,205.9 761.0,215.9 752.0,217.9 751.0,223.9 760.0,225.9 761.0,239.8 760.0,249.8 747.0,249.8 744.0,245.8 734.0,247.8 734.0,209.9 739.0,203.9"/>
<polygon fill="#1964d7" points="772.0,235.8 783.0,231.8 788.9,237.8 791.9,245.8 785.0,249.8 784.0,255.8 792.9,253.8 800.9,257.8 799.9,265.8 797.9,271.8 747.0,271.8 746.0,253.8 760.0,249.8 767.0,245.8"/>
<polygon fill="#1964d7" points="785.0,143.9 794.9,141.9 806.9,142.3 818.9,141.9 830.9,138.9 840.9,133.9 850.9,130.0 862.9,129.0 872.9,131.9 875.9,136.9 872.9,143.9 864.9,147.9 854.9,148.9 842.9,153.9 832.9,157.9 822.9,157.9 810.9,154.9 798.9,151.9 788.9,149.9"/>
<polygon fill="#1964d7" points="882.9,141.9 892.8,139.9 904.8,137.9 914.8,139.9 924.8,140.9 924.8,148.9 914.8,147.9 904.8,146.9 892.8,147.9 883.9,146.9"/>
<polygon fill="#1964d7" points="707.8,270.0 716.8,270.0 715.8,279.0 712.8,285.0 708.8,286.0 707.2,279.0"/>
<polygon fill="#1964d7" points="661.6,418.4 663.1,415.4 665.1,412.9 667.6,410.9 669.9,410.1 671.9,410.6 673.4,412.9 674.4,416.9 675.1,421.3 675.6,426.3 676.6,430.8 678.1,434.8 677.9,437.3 675.9,438.3 673.1,437.3 669.6,434.3 666.6,431.6 664.1,429.1 662.4,425.8 661.4,421.8"/>
<polygon fill="#1964d7" points="752.0,270.0 798.9,270.0 794.9,279.0 786.9,283.0 781.0,289.0 775.0,293.0 769.0,295.0 764.0,292.0 763.0,283.0 757.0,279.0"/>
<polygon fill="#1964d7" points="784.7,294.5 788.2,293.5 791.4,294.0 794.4,296.0 796.9,299.0 798.9,303.0 799.7,306.5 799.2,309.5 797.4,311.7 794.4,313.2 791.7,313.2 789.2,311.7 787.2,309.0 785.7,305.0 784.5,301.0 783.5,297.0"/>
<polygon fill="#1964d7" points="809.2,318.0 811.7,316.0 814.9,315.0 818.9,315.0 822.4,316.2 825.4,318.7 827.7,321.4 829.2,324.4 828.2,326.9 824.7,328.9 820.9,329.7 816.9,329.2 813.9,327.7 811.9,325.2 810.2,322.7 808.7,320.2"/>
<polygon fill="#1964d7" points="816.4,408.4 819.4,407.4 823.9,407.1 829.9,407.6 834.9,408.6 838.9,410.1 842.1,411.5 844.6,412.7 844.1,413.8 840.6,414.8 836.9,415.7 832.9,416.5 828.7,416.4 824.2,415.4 820.7,414.1 818.2,412.6 816.4,411.1 815.4,409.6"/>
<polygon fill="#009608" points="694.9,165.9 700.9,161.9 708.8,163.9 714.8,169.9 720.8,173.9 728.8,174.9 734.8,177.9 738.8,183.9 736.8,191.9 730.8,195.9 724.8,193.9 718.8,192.9 712.8,197.9 706.8,203.9 698.9,204.9 690.9,202.9 685.9,197.9 686.9,191.9 692.9,190.9 698.9,194.9 703.9,190.9 705.8,183.9 707.8,177.9 702.9,173.9 696.9,171.9"/>
<polygon fill="#009608" points="723.8,147.9 728.8,145.9 732.8,149.9 730.8,154.9 724.8,155.9 721.8,151.9"/>
<polygon fill="#009608" points="703.9,151.9 707.8,150.3 708.8,155.9 704.9,158.3"/>
<polygon fill="#009608" points="737.8,137.9 742.8,133.9 749.8,132.9 754.8,133.9 754.8,151.9 746.8,150.9 740.8,147.9 737.2,142.9"/>
<polygon fill="#009608" points="740.8,155.9 754.8,149.9 754.8,199.9 746.8,197.9 739.8,191.9 737.8,179.9 739.8,165.9"/>
<polygon fill="#009608" points="724.8,205.9 734.8,209.9 741.8,211.9 742.8,217.9 736.8,219.9 728.8,215.9"/>
<polygon fill="#009608" points="735.8,249.8 739.8,246.8 743.8,249.8 742.8,255.8 737.8,255.8"/>
<polygon fill="#009608" points="784.0,249.8 788.9,245.8 792.9,249.8 790.9,255.8 785.9,256.8"/>
<polygon fill="#ffff32" points="660.9,173.9 663.9,167.9 668.9,160.9 672.3,162.3 669.9,169.9 666.9,177.9 666.9,187.9 663.9,190.9 660.9,183.9"/>
<polygon fill="#ffff32" points="672.9,209.9 675.9,217.9 682.9,222.9 690.9,226.9 695.9,225.9 699.9,235.8 706.8,244.8 714.8,250.8 720.8,258.8 724.8,266.8 732.8,264.8 737.8,267.8 737.8,271.8 714.8,271.8 712.8,262.8 704.9,254.8 698.9,246.8 694.9,238.8 691.9,233.4 684.9,231.8 676.9,228.3 673.3,219.9"/>
<polygon fill="#ffff32" points="743.8,153.9 749.8,151.9 749.8,163.9 754.8,167.9 754.8,179.9 746.8,179.9 743.8,169.9"/>
<polygon fill="#ffff32" points="673.0,210.9 681.0,215.9 695.0,228.9 706.9,236.9 720.9,248.9 734.9,258.9 738.9,266.9 720.9,271.9 714.9,258.9 705.0,249.9 695.0,238.9 685.0,229.9 675.0,219.9"/>
<polygon fill="#2f1ea5" points="681.9,159.9 686.9,151.9 692.9,147.9 692.9,153.9 689.9,159.9 685.9,163.9"/>
<polygon fill="#2f1ea5" points="775.0,243.8 779.0,241.8 781.0,247.8 778.0,251.8 775.0,249.8"/>
<polygon fill="#2f1ea5" points="774.0,266.8 781.0,262.8 787.9,265.8 788.9,271.8 775.0,271.8"/>
<polygon fill="#2f1ea5" points="775.0,270.0 790.9,270.0 788.9,279.0 783.0,283.0 778.0,281.0 776.0,275.0"/>
<clipPath id="pc1"><rect x="715.0" y="150.0" width="99.0" height="95.5"/></clipPath>
<g clip-path="url(#pc1)">
<rect x="715.0" y="150.0" width="99.0" height="95.5" fill="#009608"/>
<polygon fill="#ffff32" points="743.5,156.0 745.0,152.5 749.5,152.0 750.0,156.0 750.5,161.0 753.0,163.0 756.0,164.0 759.0,168.0 761.0,171.5 765.0,169.5 767.9,168.0 770.9,169.0 774.9,168.0 777.4,166.0 776.9,160.0 778.9,157.5 784.9,158.0 790.9,159.0 799.9,160.0 807.9,161.5 814.9,163.5 814.9,245.9 791.9,245.9 792.4,237.9 791.9,229.9 790.9,221.9 791.9,215.9 793.9,210.9 794.9,205.9 794.9,200.0 792.9,199.0 788.9,201.9 784.9,203.9 781.9,202.9 779.9,198.0 779.9,192.0 782.9,187.0 778.9,188.5 774.9,187.5 770.9,187.0 769.4,190.0 767.9,194.0 765.0,197.0 761.0,200.0 757.0,201.4 755.0,199.0 755.0,194.0 759.0,191.0 761.0,188.0 760.0,185.0 755.0,183.5 749.0,182.0 746.0,179.0 744.0,174.0 743.0,168.0 743.0,162.0"/>
<polygon fill="#ffff32" points="773.9,197.0 776.9,194.0 778.9,197.0 779.9,203.9 780.9,207.9 778.9,210.9 774.9,211.9 772.9,207.9 772.9,201.9"/>
<polygon fill="#ffff32" points="762.5,219.9 766.9,215.9 770.9,216.4 772.9,219.9 772.9,225.9 771.9,231.9 772.4,235.9 770.4,239.9 767.9,245.9 763.0,245.9 763.5,239.9 764.0,231.9 763.5,225.9"/>
<polygon fill="#ffffff" points="807.9,194.0 814.9,194.0 814.9,200.9 808.9,200.4"/>
<polygon fill="#ffffff" points="812.4,217.9 814.9,216.9 814.9,221.9 812.9,221.9"/>
<polygon fill="#1964d7" points="714.5,149.5 721.0,149.5 721.0,156.0 725.0,157.0 730.0,154.0 732.0,157.0 735.0,159.0 738.5,160.0 739.0,165.0 738.5,170.0 739.5,175.0 739.0,181.0 737.0,187.0 735.5,183.0 733.0,179.0 728.0,176.0 723.0,176.0 719.0,173.0 715.0,169.0 714.5,169.0"/>
<polygon fill="#1964d7" points="758.5,149.5 772.9,149.5 772.4,155.0 770.9,159.0 767.9,161.0 764.0,162.5 760.0,159.0 758.0,155.0"/>
<polygon fill="#1964d7" points="787.9,149.5 814.9,149.5 814.9,157.0 808.9,156.0 802.9,154.0 794.9,152.0"/>
<polygon fill="#1964d7" points="714.5,195.0 718.0,193.0 722.0,194.0 724.5,198.0 725.0,203.9 724.0,205.9 719.0,206.9 714.5,205.9"/>
<polygon fill="#1964d7" points="740.0,197.0 743.0,195.0 746.5,196.0 748.0,200.0 750.0,205.9 753.0,209.9 755.0,212.9 748.0,213.9 743.0,213.4 741.0,209.9 740.0,203.9"/>
<polygon fill="#1964d7" points="759.0,209.9 763.0,205.4 765.9,205.9 764.0,209.9 761.0,210.9"/>
<polygon fill="#1964d7" points="714.5,207.4 719.0,207.9 724.5,209.9 730.0,214.9 735.0,218.9 738.0,220.9 742.0,219.9 742.5,214.9 748.0,214.9 753.0,213.9 752.0,217.9 751.5,222.9 753.5,226.9 757.0,229.9 759.0,234.9 759.0,245.9 714.5,245.9"/>
<polygon fill="#1964d7" points="774.9,245.9 776.9,239.9 778.9,233.9 783.9,229.9 784.9,234.9 787.9,237.9 788.9,241.9 786.9,245.9"/>
<polygon fill="#2f1ea5" points="775.9,245.9 777.9,242.4 779.9,245.9"/>
</g>
<clipPath id="pc2"><rect x="715.0" y="245.0" width="99.0" height="95.5"/></clipPath>
<g clip-path="url(#pc2)">
<rect x="715.0" y="245.0" width="99.0" height="95.5" fill="#ffff32"/>
<polygon fill="#ffffff" points="721.0,272.0 725.0,270.0 731.0,271.0 737.0,270.0 739.0,273.0 741.0,277.0 745.0,279.0 747.0,285.0 746.0,289.0 745.5,295.0 746.0,300.9 745.0,306.9 745.0,312.9 741.0,318.9 738.0,324.9 736.5,331.9 735.0,340.9 724.0,340.9 724.5,330.9 725.0,320.9 724.0,312.9 721.0,304.9 719.5,296.9 719.5,288.0 720.5,279.0"/>
<polygon fill="#ffffff" points="745.0,314.9 748.0,313.9 750.0,318.9 753.0,322.4 758.0,321.9 763.0,320.1 766.9,321.9 765.0,326.9 762.0,330.9 759.0,332.9 756.5,329.9 754.0,328.4 751.0,330.9 749.0,334.9 748.0,340.9 739.0,340.9 740.0,329.9 742.0,320.9"/>
<polygon fill="#ffffff" points="761.0,340.9 763.0,334.9 766.9,327.9 770.9,323.9 774.9,322.9 777.9,326.9 780.9,331.9 784.9,334.9 790.9,337.9 794.9,340.9"/>
<polygon fill="#ffffff" points="809.9,262.0 814.9,261.0 814.9,277.0 810.9,278.0 808.4,275.0 808.9,268.0"/>
<polygon fill="#009608" points="717.0,244.5 721.0,248.0 726.0,253.0 731.0,257.0 736.0,259.0 740.0,261.0 744.0,265.0 748.0,270.0 752.0,275.0 755.0,279.0 757.0,282.0 756.5,287.0 756.0,293.0 755.0,297.9 754.5,301.9 757.0,303.9 762.0,304.9 766.9,306.9 770.9,309.9 774.9,309.9 778.9,310.9 782.9,314.9 785.9,318.9 790.9,319.9 796.9,320.9 801.9,323.9 804.9,327.9 809.9,331.9 814.9,334.9 814.9,305.9 810.9,303.9 806.9,297.9 802.9,293.0 798.9,290.0 795.9,287.0 795.9,284.0 797.9,282.0 800.9,278.0 801.9,273.0 802.9,267.0 802.9,260.0 802.4,253.0 801.9,248.0 800.9,244.5"/>
<polygon fill="#009608" points="714.5,255.0 716.5,258.0 717.0,265.0 716.5,274.0 714.5,278.0"/>
<polygon fill="#1964d7" points="723.0,244.5 727.0,248.5 731.0,252.0 735.0,251.0 736.5,254.0 740.0,256.5 744.0,258.0 745.0,262.0 749.0,267.0 753.0,272.0 757.0,277.0 760.0,279.5 764.0,282.0 763.0,287.0 763.5,293.0 766.9,295.9 770.9,296.9 774.9,295.0 778.9,293.0 782.9,291.0 786.9,289.0 789.9,285.0 793.9,282.0 796.9,279.0 797.9,274.0 797.4,268.0 797.9,261.0 797.4,255.0 794.9,253.0 790.9,256.0 786.9,255.0 783.9,251.0 784.9,247.0 786.9,244.5"/>
<polygon fill="#1964d7" points="774.9,295.0 778.9,296.9 784.9,295.0 790.9,294.0 795.9,296.9 798.9,301.9 799.9,306.9 797.9,311.9 792.9,313.9 787.9,311.9 785.4,306.9 784.9,301.9 780.9,299.9"/>
<polygon fill="#1964d7" points="807.9,316.9 810.9,314.9 814.9,314.9 814.9,325.9 810.9,323.9 808.9,320.9"/>
<polygon fill="#009608" points="737.0,248.5 739.0,247.5 740.8,247.5 742.6,248.5 743.5,250.0 743.5,252.0 742.6,253.7 740.8,255.2 739.1,255.5 737.4,254.5 736.4,252.7 736.1,250.2"/>
<polygon fill="#009608" points="763.0,244.5 769.4,244.5 768.9,249.0 765.9,250.5 763.5,248.5"/>
<polygon fill="#2f1ea5" points="773.9,249.0 775.9,245.0 780.9,244.5 780.4,249.0 777.9,252.0 774.9,252.5"/>
<polygon fill="#2f1ea5" points="774.4,268.9 775.4,266.6 776.9,264.9 778.9,263.6 781.2,263.5 783.7,264.5 786.1,266.0 788.3,268.0 789.6,270.2 789.8,272.7 789.4,275.2 788.4,277.7 786.9,280.0 784.9,282.0 782.7,283.1 780.2,283.3 778.2,282.3 776.7,280.1 775.6,278.0 774.8,276.0 774.3,273.7 774.1,271.2"/>
</g>
<use href="#ml" x="545.3" y="0.0" shape-rendering="auto"/>
</g>
<rect x="565.0" y="87.0" width="359.3" height="387.6" fill="none" stroke="#000" stroke-width="1.3"/>
<line x1="562.5" x2="565.0" y1="87.0" y2="87.0" stroke="#000" stroke-width="1"/>
<text x="560.0" y="90.4" text-anchor="end" font-size="9.3" font-weight="bold" textLength="13.2" lengthAdjust="spacingAndGlyphs">15N</text>
<line x1="562.5" x2="565.0" y1="112.8" y2="112.8" stroke="#000" stroke-width="1"/>
<text x="560.0" y="116.2" text-anchor="end" font-size="9.3" font-weight="bold" textLength="13.2" lengthAdjust="spacingAndGlyphs">10N</text>
<line x1="562.5" x2="565.0" y1="138.7" y2="138.7" stroke="#000" stroke-width="1"/>
<text x="560.0" y="142.1" text-anchor="end" font-size="9.3" font-weight="bold" textLength="9.2" lengthAdjust="spacingAndGlyphs">5N</text>
<line x1="562.5" x2="565.0" y1="164.5" y2="164.5" stroke="#000" stroke-width="1"/>
<text x="560.0" y="167.9" text-anchor="end" font-size="9.3" font-weight="bold" textLength="9.2" lengthAdjust="spacingAndGlyphs">EQ</text>
<line x1="562.5" x2="565.0" y1="190.4" y2="190.4" stroke="#000" stroke-width="1"/>
<text x="560.0" y="193.8" text-anchor="end" font-size="9.3" font-weight="bold" textLength="9.2" lengthAdjust="spacingAndGlyphs">5S</text>
<line x1="562.5" x2="565.0" y1="216.2" y2="216.2" stroke="#000" stroke-width="1"/>
<text x="560.0" y="219.6" text-anchor="end" font-size="9.3" font-weight="bold" textLength="13.2" lengthAdjust="spacingAndGlyphs">10S</text>
<line x1="562.5" x2="565.0" y1="242.0" y2="242.0" stroke="#000" stroke-width="1"/>
<text x="560.0" y="245.4" text-anchor="end" font-size="9.3" font-weight="bold" textLength="13.2" lengthAdjust="spacingAndGlyphs">15S</text>
<line x1="562.5" x2="565.0" y1="267.9" y2="267.9" stroke="#000" stroke-width="1"/>
<text x="560.0" y="271.3" text-anchor="end" font-size="9.3" font-weight="bold" textLength="13.2" lengthAdjust="spacingAndGlyphs">20S</text>
<line x1="562.5" x2="565.0" y1="293.7" y2="293.7" stroke="#000" stroke-width="1"/>
<text x="560.0" y="297.1" text-anchor="end" font-size="9.3" font-weight="bold" textLength="13.2" lengthAdjust="spacingAndGlyphs">25S</text>
<line x1="562.5" x2="565.0" y1="319.6" y2="319.6" stroke="#000" stroke-width="1"/>
<text x="560.0" y="323.0" text-anchor="end" font-size="9.3" font-weight="bold" textLength="13.2" lengthAdjust="spacingAndGlyphs">30S</text>
<line x1="562.5" x2="565.0" y1="345.4" y2="345.4" stroke="#000" stroke-width="1"/>
<text x="560.0" y="348.8" text-anchor="end" font-size="9.3" font-weight="bold" textLength="13.2" lengthAdjust="spacingAndGlyphs">35S</text>
<line x1="562.5" x2="565.0" y1="371.2" y2="371.2" stroke="#000" stroke-width="1"/>
<text x="560.0" y="374.6" text-anchor="end" font-size="9.3" font-weight="bold" textLength="13.2" lengthAdjust="spacingAndGlyphs">40S</text>
<line x1="562.5" x2="565.0" y1="397.1" y2="397.1" stroke="#000" stroke-width="1"/>
<text x="560.0" y="400.5" text-anchor="end" font-size="9.3" font-weight="bold" textLength="13.2" lengthAdjust="spacingAndGlyphs">45S</text>
<line x1="562.5" x2="565.0" y1="422.9" y2="422.9" stroke="#000" stroke-width="1"/>
<text x="560.0" y="426.3" text-anchor="end" font-size="9.3" font-weight="bold" textLength="13.2" lengthAdjust="spacingAndGlyphs">50S</text>
<line x1="562.5" x2="565.0" y1="448.8" y2="448.8" stroke="#000" stroke-width="1"/>
<text x="560.0" y="452.2" text-anchor="end" font-size="9.3" font-weight="bold" textLength="13.2" lengthAdjust="spacingAndGlyphs">55S</text>
<line x1="562.5" x2="565.0" y1="474.6" y2="474.6" stroke="#000" stroke-width="1"/>
<text x="560.0" y="478.0" text-anchor="end" font-size="9.3" font-weight="bold" textLength="13.2" lengthAdjust="spacingAndGlyphs">60S</text>
<line x1="569.9" x2="569.9" y1="474.6" y2="477.1" stroke="#000" stroke-width="1"/>
<text x="569.9" y="485.7" text-anchor="middle" font-size="9.3" font-weight="bold" textLength="18.2" lengthAdjust="spacingAndGlyphs">100W</text>
<line x1="609.8" x2="609.8" y1="474.6" y2="477.1" stroke="#000" stroke-width="1"/>
<text x="609.8" y="485.7" text-anchor="middle" font-size="9.3" font-weight="bold" textLength="13.6" lengthAdjust="spacingAndGlyphs">90W</text>
<line x1="649.7" x2="649.7" y1="474.6" y2="477.1" stroke="#000" stroke-width="1"/>
<text x="649.7" y="485.7" text-anchor="middle" font-size="9.3" font-weight="bold" textLength="13.6" lengthAdjust="spacingAndGlyphs">80W</text>
<line x1="689.6" x2="689.6" y1="474.6" y2="477.1" stroke="#000" stroke-width="1"/>
<text x="689.6" y="485.7" text-anchor="middle" font-size="9.3" font-weight="bold" textLength="13.6" lengthAdjust="spacingAndGlyphs">70W</text>
<line x1="729.5" x2="729.5" y1="474.6" y2="477.1" stroke="#000" stroke-width="1"/>
<text x="729.5" y="485.7" text-anchor="middle" font-size="9.3" font-weight="bold" textLength="13.6" lengthAdjust="spacingAndGlyphs">60W</text>
<line x1="769.4" x2="769.4" y1="474.6" y2="477.1" stroke="#000" stroke-width="1"/>
<text x="769.4" y="485.7" text-anchor="middle" font-size="9.3" font-weight="bold" textLength="13.6" lengthAdjust="spacingAndGlyphs">50W</text>
<line x1="809.4" x2="809.4" y1="474.6" y2="477.1" stroke="#000" stroke-width="1"/>
<text x="809.4" y="485.7" text-anchor="middle" font-size="9.3" font-weight="bold" textLength="13.6" lengthAdjust="spacingAndGlyphs">40W</text>
<line x1="849.3" x2="849.3" y1="474.6" y2="477.1" stroke="#000" stroke-width="1"/>
<text x="849.3" y="485.7" text-anchor="middle" font-size="9.3" font-weight="bold" textLength="13.6" lengthAdjust="spacingAndGlyphs">30W</text>
<line x1="889.2" x2="889.2" y1="474.6" y2="477.1" stroke="#000" stroke-width="1"/>
<text x="889.2" y="485.7" text-anchor="middle" font-size="9.3" font-weight="bold" textLength="13.6" lengthAdjust="spacingAndGlyphs">20W</text>
<polygon points="964.9,240.2 970.8,210.9 976.6,240.2" fill="#2f1ea5" stroke="#000" stroke-width="1"/>
<rect x="964.9" y="240.2" width="11.7" height="27.6" fill="#1964d7" stroke="#000" stroke-width="1"/>
<rect x="964.9" y="267.8" width="11.7" height="27.9" fill="#009608" stroke="#000" stroke-width="1"/>
<rect x="964.9" y="295.7" width="11.7" height="27.8" fill="#ffff32" stroke="#000" stroke-width="1"/>
<polygon points="964.9,323.5 970.8,351.5 976.6,323.5" fill="#fff" stroke="#000" stroke-width="1"/>
<text x="978.6" y="243.8" font-size="11.4" font-weight="bold">95</text>
<text x="978.6" y="271.4" font-size="11.4" font-weight="bold">65</text>
<text x="978.6" y="299.3" font-size="11.4" font-weight="bold">35</text>
<text x="978.6" y="327.1" font-size="11.4" font-weight="bold">5</text>
<g clip-path="url(#c3)" shape-rendering="crispEdges">
<rect x="19.7" y="557.7" width="359.3" height="387.6" fill="#ffffff"/>
<polygon fill="#ffff32" points="18.0,585.0 30.0,587.0 40.0,590.0 50.0,592.0 60.0,591.0 69.9,593.0 75.9,598.0 83.9,600.0 91.9,598.0 97.9,595.0 93.9,590.0 87.9,585.0 85.9,579.0 93.9,587.0 103.9,588.0 109.9,591.0 117.9,589.0 121.9,581.0 127.9,573.0 137.9,571.0 145.9,577.0 153.9,581.0 157.9,587.0 153.9,595.0 145.9,599.0 153.9,601.0 161.8,601.9 169.8,601.0 179.8,595.0 183.8,587.0 181.8,581.0 185.8,577.0 197.8,576.0 190.8,577.0 190.8,742.8 158.9,742.8 153.9,736.8 147.9,730.8 139.9,724.8 131.9,718.8 123.9,710.8 118.9,702.8 113.9,690.9 109.9,680.9 106.9,670.9 105.5,662.9 103.9,654.9 103.9,642.9 105.9,634.9 108.9,626.9 109.9,620.9 103.9,623.9 95.9,624.9 87.9,621.9 79.9,618.9 69.9,615.9 60.0,616.9 50.0,619.9 40.0,616.9 30.0,612.9 18.0,608.9"/>
<polygon fill="#ffff32" points="90.9,557.0 91.9,565.0 95.9,573.0 103.9,574.0 111.9,569.0 117.9,563.0 119.9,557.0"/>
<polygon fill="#ffff32" points="132.9,557.0 180.8,557.0 179.8,563.0 169.8,566.0 157.9,566.6 145.9,564.0 135.9,561.0"/>
<polygon fill="#ffff32" points="189.0,579.0 200.0,578.0 210.0,575.0 220.0,571.0 226.0,565.0 234.0,560.0 241.9,559.0 248.9,561.0 249.9,569.0 247.9,577.0 240.0,581.0 232.0,587.0 228.0,593.0 230.0,599.0 238.0,601.0 245.9,600.0 255.9,602.9 265.9,604.9 275.9,602.9 285.9,600.0 297.9,595.0 309.9,593.4 321.9,595.0 333.9,598.0 347.8,600.0 359.8,601.9 369.8,603.9 373.8,599.0 379.8,594.0 379.8,633.9 369.8,630.9 359.8,629.9 349.8,629.9 341.8,633.9 329.9,634.9 319.9,636.9 309.9,637.9 299.9,639.9 289.9,642.9 279.9,645.9 275.9,644.9 269.9,638.9 261.9,635.9 249.9,632.9 240.0,630.9 232.0,630.9 230.0,636.9 226.0,638.9 220.0,637.9 214.0,640.9 208.0,641.9 212.0,648.9 222.0,651.9 232.0,654.9 238.0,652.9 241.9,656.9 247.9,660.9 255.9,666.9 260.9,670.9 263.9,676.9 259.9,682.9 263.9,690.9 264.9,698.9 259.9,706.8 255.9,710.8 259.9,716.8 263.9,722.8 261.9,730.8 260.9,742.8 189.0,742.8"/>
<polygon fill="#ffff32" points="259.9,557.0 279.9,557.0 277.9,565.0 271.9,570.0 263.9,570.0 259.9,565.0"/>
<polygon fill="#ffff32" points="271.9,650.9 277.9,647.9 276.9,654.9 272.9,656.9"/>
<polygon fill="#ffff32" points="285.2,702.1 287.0,700.6 289.0,700.6 291.2,702.1 292.2,704.1 292.0,706.6 290.6,708.1 288.2,708.6 286.3,707.3 285.0,704.3"/>
<polygon fill="#ffff32" points="248.9,649.9 253.9,649.9 253.5,654.9 249.5,654.5"/>
<polygon fill="#ffff32" points="157.9,741.0 174.9,741.0 174.9,750.0 171.9,762.0 170.9,774.0 165.9,782.0 157.9,788.0 152.3,785.0 152.3,776.0 154.9,764.0 156.9,752.0"/>
<polygon fill="#ffff32" points="165.2,796.4 167.7,795.4 170.2,796.2 172.7,798.7 174.3,802.4 175.1,807.4 175.9,812.4 176.6,817.4 178.7,820.9 182.2,822.9 185.2,825.4 187.7,828.4 188.4,831.7 187.4,835.2 185.2,837.2 181.7,837.7 178.2,837.2 174.7,835.7 171.9,833.2 169.9,829.7 167.2,827.2 163.7,825.7 159.9,824.7 155.9,824.2 153.8,823.2 153.6,821.7 155.1,820.4 158.3,819.4 160.8,817.2 162.6,813.7 163.4,809.9 163.1,805.9 163.2,802.2 163.7,798.7"/>
<polygon fill="#ffff32" points="209.4,828.7 212.4,824.2 215.4,821.2 218.4,819.7 221.9,820.7 225.9,824.2 229.9,828.4 233.9,833.4 236.4,837.9 237.4,841.9 236.4,844.6 233.4,846.1 228.9,846.6 222.9,846.1 218.1,844.6 214.6,842.1 211.6,838.4 209.1,833.4"/>
<polygon fill="#ffff32" points="243.9,881.9 248.9,876.9 259.8,876.3 271.8,875.9 285.8,876.9 299.8,879.5 299.8,905.8 291.8,904.8 279.8,901.8 269.8,897.8 259.8,896.8 249.9,893.8 244.3,888.9"/>
<polygon fill="#ffff32" points="116.2,889.4 117.4,884.4 119.2,880.4 121.7,877.4 124.7,875.6 128.2,875.1 131.2,876.1 133.7,878.6 135.2,881.9 135.7,885.9 135.7,890.4 135.2,895.3 133.7,899.3 131.2,902.3 128.5,904.8 125.5,906.8 123.0,907.6 121.0,907.1 119.2,905.1 117.7,901.6 116.6,897.8 115.9,893.8"/>
<polygon fill="#ffff32" points="200.9,741.0 203.9,750.0 205.9,760.0 201.9,768.0 202.9,777.0 209.9,782.0 217.9,788.0 223.9,792.0 229.9,789.0 239.9,794.9 247.9,792.0 253.8,793.9 259.8,803.9 269.8,813.9 283.8,818.9 299.8,815.9 299.8,774.0 289.8,775.0 279.8,772.0 269.8,766.0 263.8,760.0 259.8,754.0 261.8,746.0 263.8,741.0"/>
<polygon fill="#ffff32" points="265.0,773.0 282.0,773.9 290.0,778.9 300.0,780.9 315.9,779.9 321.9,787.9 325.9,801.9 324.9,806.9 313.9,807.9 305.9,810.9 298.0,815.9 290.0,818.9 280.0,816.9 265.0,813.9"/>
<polygon fill="#ffff32" points="265.0,876.8 280.0,876.2 292.0,878.8 301.9,883.8 313.9,884.8 321.9,889.8 317.9,896.8 311.9,902.7 301.9,906.7 292.0,904.7 280.0,900.7 265.0,896.8"/>
<polygon fill="#009608" points="96.9,557.0 97.9,563.0 101.9,565.4 106.9,561.0 107.9,557.0"/>
<polygon fill="#009608" points="18.0,594.0 28.0,595.0 38.0,598.0 47.0,601.9 46.0,606.9 38.0,609.3 28.0,606.9 18.0,601.9"/>
<polygon fill="#009608" points="92.9,607.2 94.9,603.7 97.7,601.0 101.2,599.0 104.2,598.5 106.7,599.5 107.9,601.9 107.9,605.9 106.9,609.4 104.9,612.4 102.4,614.4 99.4,615.4 96.7,615.4 94.2,614.4 92.7,612.7 92.2,610.2"/>
<polygon fill="#009608" points="113.9,593.0 121.9,597.0 127.9,600.0 133.9,596.0 139.9,589.0 147.9,583.0 151.9,586.0 147.9,593.0 141.9,598.0 142.9,604.9 149.9,608.9 157.9,608.9 165.8,606.9 173.8,602.9 179.8,598.0 183.8,591.0 189.8,589.0 197.8,594.0 190.8,601.0 190.8,742.8 201.8,742.8 195.8,734.8 185.8,729.8 175.8,724.8 167.8,720.8 159.9,713.8 153.9,706.8 149.9,698.9 141.9,690.9 133.9,684.9 129.9,676.9 125.9,666.9 123.9,656.9 124.9,646.9 126.9,638.9 123.9,634.9 118.9,638.9 113.9,646.9 109.9,648.9 108.9,640.9 109.9,630.9 111.9,620.9 112.9,610.9 114.9,601.0"/>
<polygon fill="#009608" points="110.9,662.9 113.9,658.9 118.9,661.9 122.9,670.9 125.9,682.9 127.9,690.9 133.9,697.9 141.9,700.9 147.9,706.8 149.9,716.8 157.9,722.8 165.8,726.8 171.8,734.8 173.8,742.8 163.8,742.8 159.9,736.8 153.9,730.8 145.9,724.8 137.9,720.8 129.9,714.8 123.9,706.8 118.9,698.9 114.9,688.9 111.9,678.9 110.3,670.9"/>
<polygon fill="#009608" points="242.9,614.9 247.9,610.9 257.9,610.9 269.9,611.9 279.9,608.9 289.9,604.9 301.9,601.0 313.9,601.0 325.9,603.9 337.9,607.9 349.8,609.9 361.8,612.9 375.8,617.9 369.8,619.9 359.8,620.9 349.8,616.9 339.9,615.9 333.9,618.9 325.9,614.9 317.9,619.9 309.9,618.9 301.9,620.9 293.9,625.9 285.9,630.9 277.9,630.9 267.9,626.9 257.9,623.9 247.9,621.9"/>
<polygon fill="#009608" points="189.0,590.0 196.0,593.0 204.0,599.0 214.0,603.9 222.0,608.9 227.0,616.9 227.0,624.9 224.0,630.9 218.0,630.9 212.0,624.9 209.0,616.9 204.0,610.9 198.0,608.9 192.0,604.9 189.0,604.9"/>
<polygon fill="#009608" points="189.0,604.9 192.0,604.9 198.0,608.9 209.0,616.9 210.0,624.9 202.0,626.9 194.0,624.9 189.0,620.9"/>
<polygon fill="#009608" points="189.0,626.9 194.0,630.9 195.0,638.9 192.0,646.9 189.0,648.9"/>
<polygon fill="#009608" points="189.0,662.9 194.0,659.9 200.0,660.5 204.0,665.9 207.0,672.9 214.0,676.5 222.0,676.5 221.0,680.9 214.0,683.9 207.0,687.3 210.0,694.9 213.0,702.8 220.0,706.8 228.0,702.8 233.0,694.9 238.0,690.9 240.9,698.9 243.9,708.8 249.9,716.8 253.9,722.8 253.9,730.8 251.9,742.8 189.0,742.8"/>
<polygon fill="#009608" points="162.9,741.0 170.9,741.0 169.9,750.0 166.9,758.0 164.9,762.0 163.5,754.0"/>
<polygon fill="#009608" points="160.9,768.0 162.9,767.0 163.5,773.0 161.1,774.0"/>
<polygon fill="#009608" points="121.5,888.1 122.5,884.6 124.0,882.4 126.0,881.4 127.7,881.9 129.2,883.9 130.0,887.1 130.0,891.6 129.2,895.3 127.7,898.3 126.0,899.3 124.0,898.3 122.5,895.8 121.5,891.9"/>
<polygon fill="#009608" points="208.9,741.0 211.9,750.0 213.9,760.0 213.9,768.0 219.9,775.0 227.9,778.0 229.9,770.0 235.9,774.0 239.9,782.0 251.8,782.0 261.8,781.0 265.8,788.0 269.8,799.9 279.8,803.9 291.8,801.9 299.8,798.9 299.8,794.9 291.8,792.0 281.8,790.0 275.8,784.0 269.8,781.0 261.8,776.0 257.8,770.0 253.8,764.0 245.9,760.0 239.9,758.0 247.9,752.0 253.8,746.0 255.8,741.0"/>
<polygon fill="#009608" points="265.0,780.9 274.0,782.9 280.0,789.9 288.0,792.9 298.0,795.9 299.0,799.9 294.0,802.9 284.0,804.3 265.0,803.9"/>
<polygon fill="#ffff32" points="127.9,616.9 133.9,614.9 135.9,618.9 129.9,628.9 123.9,638.9 119.9,636.9 123.9,626.9"/>
<polygon fill="#ffff32" points="149.9,638.9 157.9,633.9 165.8,636.9 173.8,641.9 183.8,644.9 193.8,646.9 197.8,650.9 196.8,662.9 193.8,672.9 189.8,678.9 185.8,674.9 179.8,668.9 173.8,670.9 167.8,676.9 161.8,678.9 155.9,672.9 149.9,668.9 143.9,666.9 141.9,662.9 147.9,658.9 153.9,654.9 152.9,646.9"/>
<polygon fill="#ffff32" points="155.9,616.9 159.9,614.9 162.8,620.9 160.8,628.9 156.9,626.9 154.9,620.9"/>
<polygon fill="#ffff32" points="190.8,721.8 194.8,717.8 198.8,721.8 197.8,727.8 192.8,728.8"/>
<polygon fill="#ffff32" points="194.0,610.9 200.0,607.9 205.0,612.9 204.0,620.9 198.0,623.9 194.0,618.9"/>
<polygon fill="#ffff32" points="207.0,610.9 210.0,611.9 210.4,620.9 207.6,619.9"/>
<polygon fill="#ffff32" points="192.0,716.8 196.0,718.8 198.0,726.8 194.0,730.8 190.0,726.8"/>
<polygon fill="#ffff32" points="220.0,708.8 228.0,703.8 230.0,710.8 226.0,718.8 222.0,724.8 218.0,720.8 217.0,714.8"/>
<polygon fill="#ffff32" points="189.0,728.8 198.0,730.8 208.0,736.8 216.0,742.8 189.0,742.8"/>
<polygon fill="#1964d7" points="112.9,668.9 115.9,665.9 118.9,670.9 120.9,680.9 121.9,688.9 118.9,689.9 115.9,682.9 113.5,674.9"/>
<polygon fill="#1964d7" points="129.9,704.8 137.9,702.8 145.9,706.8 149.9,712.8 147.9,718.8 139.9,716.8 131.9,710.8"/>
<polygon fill="#1964d7" points="157.9,726.8 162.8,724.8 167.8,730.8 169.8,738.8 165.8,740.8 160.8,734.8"/>
<polygon fill="#1964d7" points="113.9,626.9 116.9,616.9 119.9,608.9 123.9,604.9 126.9,610.9 125.9,618.9 121.9,626.9 117.9,632.9 114.3,634.9"/>
<polygon fill="#1964d7" points="130.9,602.9 135.9,600.0 138.9,603.9 136.9,608.9 131.9,609.9"/>
<polygon fill="#1964d7" points="132.9,630.9 137.9,622.9 143.9,616.9 149.9,612.9 152.9,616.9 152.9,624.9 149.9,630.9 145.9,634.9 139.9,637.9 133.9,636.9"/>
<polygon fill="#1964d7" points="165.8,616.9 169.8,613.9 173.8,616.9 174.8,622.9 170.8,626.9 166.8,623.9"/>
<polygon fill="#1964d7" points="180.8,604.9 185.8,603.3 187.8,607.9 184.8,611.9 181.4,609.9"/>
<polygon fill="#1964d7" points="182.8,629.9 187.8,627.9 189.8,632.9 187.8,638.9 183.4,637.9"/>
<polygon fill="#1964d7" points="142.9,683.9 147.9,681.9 153.9,684.9 161.8,690.9 167.8,686.9 175.8,688.9 183.8,694.9 190.8,698.9 194.8,704.8 193.8,710.8 187.8,713.8 181.8,710.8 173.8,706.8 167.8,702.8 161.8,699.9 155.9,694.9 147.9,690.9 143.5,687.9"/>
<polygon fill="#1964d7" points="203.0,710.8 207.0,707.8 212.0,716.8 218.0,722.8 224.0,720.8 230.0,708.8 238.0,703.8 240.0,710.8 237.0,720.8 238.0,728.8 246.9,726.8 248.9,734.8 247.9,742.8 216.0,742.8 208.0,734.8 202.0,726.8 201.0,716.8"/>
<polygon fill="#1964d7" points="189.0,698.9 193.0,700.9 195.0,708.8 192.0,712.8 189.0,712.8"/>
<polygon fill="#1964d7" points="214.9,741.0 215.9,748.0 220.9,756.0 225.9,763.0 231.9,761.0 237.9,756.0 243.9,751.0 248.9,745.0 249.9,741.0"/>
<polygon fill="#1964d7" points="243.9,771.2 245.9,769.7 247.7,769.7 249.4,771.2 249.9,773.2 249.2,775.7 247.7,777.1 245.4,777.4 243.9,776.2 243.2,773.4"/>
<polygon fill="#009608" points="172.8,695.9 176.8,694.9 178.8,698.9 175.8,701.2 172.8,699.3"/>
<polygon fill="#2f1ea5" points="231.0,715.8 234.4,714.4 235.6,718.8 232.4,720.4"/>
<polygon fill="#2f1ea5" points="230.0,737.8 233.0,735.8 235.6,739.8 233.0,742.8 230.0,741.8"/>
<polygon fill="#2f1ea5" points="230.9,741.0 239.9,741.0 240.9,746.0 237.9,750.0 233.9,748.0"/>
<clipPath id="pc3"><rect x="140.0" y="695.0" width="99.0" height="95.5"/></clipPath>
<g clip-path="url(#pc3)">
<rect x="140.0" y="695.0" width="99.0" height="95.5" fill="#ffff32"/>
<polygon fill="#ffffff" points="139.5,724.0 144.0,725.0 147.0,728.0 151.0,733.0 155.0,737.0 158.0,742.0 159.0,746.9 157.0,750.9 156.0,756.9 155.0,764.9 153.0,774.9 152.0,782.9 155.0,787.9 158.0,790.9 139.5,790.9"/>
<polygon fill="#ffffff" points="176.0,729.0 178.0,728.0 180.0,733.0 184.0,735.0 188.0,734.5 191.9,736.0 195.9,739.0 199.9,743.0 202.9,747.9 204.9,754.9 205.9,760.9 203.9,766.9 201.9,772.9 202.9,777.9 203.9,779.9 208.9,784.9 213.9,790.9 163.0,790.9 167.0,784.9 170.0,778.9 172.0,772.9 173.0,764.9 173.5,756.9 174.0,748.9 175.0,742.0 175.5,735.0"/>
<polygon fill="#009608" points="149.0,694.5 153.0,698.0 159.0,704.0 165.0,709.0 172.0,714.0 178.0,718.0 183.0,721.5 188.0,725.0 190.9,723.0 191.9,719.0 194.9,717.5 197.9,721.0 198.9,725.0 201.9,728.0 207.9,733.0 211.9,735.0 215.9,737.0 215.9,743.0 213.9,748.9 211.9,752.9 214.4,754.9 214.9,759.9 213.4,764.9 215.9,770.9 219.9,775.9 224.9,778.9 229.9,776.9 233.9,773.9 239.9,774.9 239.9,694.5"/>
<polygon fill="#009608" points="139.5,701.0 143.0,701.0 148.0,705.0 151.0,710.0 154.0,715.0 158.0,719.0 164.0,721.0 169.0,725.0 172.0,730.0 172.0,738.0 170.0,745.0 169.0,750.9 167.0,756.9 165.0,762.9 163.0,756.9 162.0,750.9 162.5,745.0 161.0,739.0 158.0,733.0 154.0,728.0 150.0,724.0 146.0,721.0 142.0,719.0 139.5,718.0"/>
<polygon fill="#009608" points="161.2,767.9 163.8,766.9 163.5,770.9 161.5,773.9"/>
<polygon fill="#ffff32" points="208.9,694.5 211.9,698.0 215.9,701.0 218.9,707.0 218.9,713.0 217.4,716.0 219.9,718.0 222.9,716.5 224.9,712.0 227.9,706.0 229.9,702.0 231.4,698.0 230.9,694.5"/>
<polygon fill="#ffff32" points="190.8,721.1 191.6,719.4 192.7,718.2 194.2,717.7 195.6,718.1 196.8,719.4 197.6,721.0 197.8,723.0 197.3,724.7 196.1,726.2 194.7,726.7 193.2,726.2 191.9,725.0 190.9,723.0"/>
<polygon fill="#1964d7" points="155.0,694.5 184.0,694.5 187.0,696.0 190.0,698.0 193.9,702.0 194.9,707.0 191.9,711.0 187.0,714.0 184.0,712.0 183.0,708.0 180.0,705.0 173.0,701.0 166.0,697.0 163.0,695.0"/>
<polygon fill="#1964d7" points="139.5,704.0 144.0,705.0 148.0,709.0 150.5,714.0 150.0,718.0 146.0,717.0 142.0,714.0 139.5,713.0"/>
<polygon fill="#1964d7" points="159.4,725.6 161.1,724.8 163.0,725.1 165.0,726.3 166.7,728.2 168.2,730.7 169.2,733.2 169.7,735.7 169.5,738.0 168.5,740.0 167.2,740.5 165.7,739.5 164.5,738.0 163.5,736.0 162.2,733.7 160.7,731.2 159.6,729.0 158.9,727.0"/>
<polygon fill="#1964d7" points="202.9,715.0 205.9,708.0 209.9,711.0 212.9,715.0 213.9,719.0 211.9,724.0 209.9,728.0 211.9,731.0 209.9,734.0 205.9,732.0 201.9,728.0 203.9,723.0 202.9,719.0"/>
<polygon fill="#1964d7" points="211.9,724.0 215.9,720.0 219.9,724.0 222.9,726.0 225.9,721.0 227.9,715.0 229.9,710.0 233.9,706.0 239.9,704.0 239.9,758.9 235.9,760.9 231.9,763.9 227.9,764.9 223.9,765.9 220.9,762.9 219.9,756.9 217.9,750.9 218.9,745.0 216.9,741.0 217.9,737.0 215.9,735.0 212.9,733.0 211.4,729.0"/>
<polygon fill="#009608" points="173.5,694.5 177.5,694.5 177.0,699.0 174.5,698.0"/>
<polygon fill="#2f1ea5" points="229.9,716.0 232.9,714.5 234.9,716.5 234.4,719.5 231.4,720.0"/>
<polygon fill="#2f1ea5" points="229.9,739.0 232.4,735.0 234.9,739.0 235.9,745.0 237.4,749.9 233.9,750.4 231.4,745.0"/>
</g>
<use href="#ml" x="0.0" y="470.7" shape-rendering="auto"/>
</g>
<rect x="19.7" y="557.7" width="359.3" height="387.6" fill="none" stroke="#000" stroke-width="1.3"/>
<line x1="17.2" x2="19.7" y1="557.7" y2="557.7" stroke="#000" stroke-width="1"/>
<text x="14.7" y="561.1" text-anchor="end" font-size="9.3" font-weight="bold" textLength="13.2" lengthAdjust="spacingAndGlyphs">15N</text>
<line x1="17.2" x2="19.7" y1="583.5" y2="583.5" stroke="#000" stroke-width="1"/>
<text x="14.7" y="586.9" text-anchor="end" font-size="9.3" font-weight="bold" textLength="13.2" lengthAdjust="spacingAndGlyphs">10N</text>
<line x1="17.2" x2="19.7" y1="609.4" y2="609.4" stroke="#000" stroke-width="1"/>
<text x="14.7" y="612.8" text-anchor="end" font-size="9.3" font-weight="bold" textLength="9.2" lengthAdjust="spacingAndGlyphs">5N</text>
<line x1="17.2" x2="19.7" y1="635.2" y2="635.2" stroke="#000" stroke-width="1"/>
<text x="14.7" y="638.6" text-anchor="end" font-size="9.3" font-weight="bold" textLength="9.2" lengthAdjust="spacingAndGlyphs">EQ</text>
<line x1="17.2" x2="19.7" y1="661.1" y2="661.1" stroke="#000" stroke-width="1"/>
<text x="14.7" y="664.5" text-anchor="end" font-size="9.3" font-weight="bold" textLength="9.2" lengthAdjust="spacingAndGlyphs">5S</text>
<line x1="17.2" x2="19.7" y1="686.9" y2="686.9" stroke="#000" stroke-width="1"/>
<text x="14.7" y="690.3" text-anchor="end" font-size="9.3" font-weight="bold" textLength="13.2" lengthAdjust="spacingAndGlyphs">10S</text>
<line x1="17.2" x2="19.7" y1="712.7" y2="712.7" stroke="#000" stroke-width="1"/>
<text x="14.7" y="716.1" text-anchor="end" font-size="9.3" font-weight="bold" textLength="13.2" lengthAdjust="spacingAndGlyphs">15S</text>
<line x1="17.2" x2="19.7" y1="738.6" y2="738.6" stroke="#000" stroke-width="1"/>
<text x="14.7" y="742.0" text-anchor="end" font-size="9.3" font-weight="bold" textLength="13.2" lengthAdjust="spacingAndGlyphs">20S</text>
<line x1="17.2" x2="19.7" y1="764.4" y2="764.4" stroke="#000" stroke-width="1"/>
<text x="14.7" y="767.8" text-anchor="end" font-size="9.3" font-weight="bold" textLength="13.2" lengthAdjust="spacingAndGlyphs">25S</text>
<line x1="17.2" x2="19.7" y1="790.3" y2="790.3" stroke="#000" stroke-width="1"/>
<text x="14.7" y="793.7" text-anchor="end" font-size="9.3" font-weight="bold" textLength="13.2" lengthAdjust="spacingAndGlyphs">30S</text>
<line x1="17.2" x2="19.7" y1="816.1" y2="816.1" stroke="#000" stroke-width="1"/>
<text x="14.7" y="819.5" text-anchor="end" font-size="9.3" font-weight="bold" textLength="13.2" lengthAdjust="spacingAndGlyphs">35S</text>
<line x1="17.2" x2="19.7" y1="841.9" y2="841.9" stroke="#000" stroke-width="1"/>
<text x="14.7" y="845.3" text-anchor="end" font-size="9.3" font-weight="bold" textLength="13.2" lengthAdjust="spacingAndGlyphs">40S</text>
<line x1="17.2" x2="19.7" y1="867.8" y2="867.8" stroke="#000" stroke-width="1"/>
<text x="14.7" y="871.2" text-anchor="end" font-size="9.3" font-weight="bold" textLength="13.2" lengthAdjust="spacingAndGlyphs">45S</text>
<line x1="17.2" x2="19.7" y1="893.6" y2="893.6" stroke="#000" stroke-width="1"/>
<text x="14.7" y="897.0" text-anchor="end" font-size="9.3" font-weight="bold" textLength="13.2" lengthAdjust="spacingAndGlyphs">50S</text>
<line x1="17.2" x2="19.7" y1="919.5" y2="919.5" stroke="#000" stroke-width="1"/>
<text x="14.7" y="922.9" text-anchor="end" font-size="9.3" font-weight="bold" textLength="13.2" lengthAdjust="spacingAndGlyphs">55S</text>
<line x1="17.2" x2="19.7" y1="945.3" y2="945.3" stroke="#000" stroke-width="1"/>
<text x="14.7" y="948.7" text-anchor="end" font-size="9.3" font-weight="bold" textLength="13.2" lengthAdjust="spacingAndGlyphs">60S</text>
<line x1="24.6" x2="24.6" y1="945.3" y2="947.8" stroke="#000" stroke-width="1"/>
<text x="24.6" y="956.4" text-anchor="middle" font-size="9.3" font-weight="bold" textLength="18.2" lengthAdjust="spacingAndGlyphs">100W</text>
<line x1="64.5" x2="64.5" y1="945.3" y2="947.8" stroke="#000" stroke-width="1"/>
<text x="64.5" y="956.4" text-anchor="middle" font-size="9.3" font-weight="bold" textLength="13.6" lengthAdjust="spacingAndGlyphs">90W</text>
<line x1="104.4" x2="104.4" y1="945.3" y2="947.8" stroke="#000" stroke-width="1"/>
<text x="104.4" y="956.4" text-anchor="middle" font-size="9.3" font-weight="bold" textLength="13.6" lengthAdjust="spacingAndGlyphs">80W</text>
<line x1="144.3" x2="144.3" y1="945.3" y2="947.8" stroke="#000" stroke-width="1"/>
<text x="144.3" y="956.4" text-anchor="middle" font-size="9.3" font-weight="bold" textLength="13.6" lengthAdjust="spacingAndGlyphs">70W</text>
<line x1="184.2" x2="184.2" y1="945.3" y2="947.8" stroke="#000" stroke-width="1"/>
<text x="184.2" y="956.4" text-anchor="middle" font-size="9.3" font-weight="bold" textLength="13.6" lengthAdjust="spacingAndGlyphs">60W</text>
<line x1="224.2" x2="224.2" y1="945.3" y2="947.8" stroke="#000" stroke-width="1"/>
<text x="224.2" y="956.4" text-anchor="middle" font-size="9.3" font-weight="bold" textLength="13.6" lengthAdjust="spacingAndGlyphs">50W</text>
<line x1="264.1" x2="264.1" y1="945.3" y2="947.8" stroke="#000" stroke-width="1"/>
<text x="264.1" y="956.4" text-anchor="middle" font-size="9.3" font-weight="bold" textLength="13.6" lengthAdjust="spacingAndGlyphs">40W</text>
<line x1="304.0" x2="304.0" y1="945.3" y2="947.8" stroke="#000" stroke-width="1"/>
<text x="304.0" y="956.4" text-anchor="middle" font-size="9.3" font-weight="bold" textLength="13.6" lengthAdjust="spacingAndGlyphs">30W</text>
<line x1="343.9" x2="343.9" y1="945.3" y2="947.8" stroke="#000" stroke-width="1"/>
<text x="343.9" y="956.4" text-anchor="middle" font-size="9.3" font-weight="bold" textLength="13.6" lengthAdjust="spacingAndGlyphs">20W</text>
<polygon points="419.6,710.9 425.5,681.6 431.3,710.9" fill="#2f1ea5" stroke="#000" stroke-width="1"/>
<rect x="419.6" y="710.9" width="11.7" height="27.6" fill="#1964d7" stroke="#000" stroke-width="1"/>
<rect x="419.6" y="738.5" width="11.7" height="27.9" fill="#009608" stroke="#000" stroke-width="1"/>
<rect x="419.6" y="766.4" width="11.7" height="27.8" fill="#ffff32" stroke="#000" stroke-width="1"/>
<polygon points="419.6,794.2 425.5,822.2 431.3,794.2" fill="#fff" stroke="#000" stroke-width="1"/>
<text x="433.3" y="714.5" font-size="11.4" font-weight="bold">95</text>
<text x="433.3" y="742.1" font-size="11.4" font-weight="bold">65</text>
<text x="433.3" y="770.0" font-size="11.4" font-weight="bold">35</text>
<text x="433.3" y="797.8" font-size="11.4" font-weight="bold">5</text>
<g clip-path="url(#c4)" shape-rendering="crispEdges">
<rect x="565.0" y="557.7" width="359.3" height="387.6" fill="#ffffff"/>
<polygon fill="#ffff32" points="565.0,587.7 569.0,589.2 573.5,591.0 578.5,593.0 582.5,595.5 585.5,598.5 587.0,601.4 587.0,604.4 585.0,606.7 581.0,608.2 577.0,608.7 573.0,608.2 569.0,607.2 565.0,605.7 563.0,600.5 563.0,591.5"/>
<polygon fill="#ffff32" points="605.0,597.2 606.9,595.7 609.4,595.2 612.4,595.7 613.9,597.0 613.9,599.0 612.7,600.5 610.2,601.4 607.9,601.7 605.9,601.2 604.7,600.2 604.2,598.7"/>
<polygon fill="#ffff32" points="641.7,602.7 643.2,600.2 645.2,599.0 647.7,599.0 649.4,600.2 650.4,602.7 650.4,605.4 649.4,608.4 647.7,610.4 645.2,611.4 643.3,611.2 642.0,609.7 641.2,607.7 641.0,605.2"/>
<polygon fill="#ffff32" points="640.9,557.0 655.9,557.0 653.9,565.0 648.9,569.0 643.9,568.0 641.3,563.0"/>
<polygon fill="#ffff32" points="655.9,624.9 657.9,620.9 660.1,616.4 662.6,611.4 665.6,606.9 669.1,602.9 672.9,599.7 676.9,597.2 680.9,595.5 684.9,594.5 687.1,595.7 687.6,599.2 687.4,602.9 686.4,606.9 684.1,610.4 680.6,613.4 677.9,616.9 675.9,620.9 673.4,624.9 670.4,628.9 667.4,631.9 664.4,633.9 661.4,634.2 658.4,632.7 656.4,630.7 655.4,628.2"/>
<polygon fill="#ffff32" points="684.4,623.2 685.4,619.7 687.1,617.2 689.6,615.7 692.1,615.7 694.6,617.2 696.1,619.7 696.6,623.2 695.9,626.4 693.9,629.4 691.4,631.2 688.4,631.7 686.1,630.2 684.6,626.7"/>
<polygon fill="#ffff32" points="654.7,645.4 656.1,642.4 657.9,641.4 659.9,642.4 661.1,644.9 661.6,648.9 660.9,652.4 658.9,655.4 657.0,656.1 655.2,654.6 654.2,652.1 654.0,648.7"/>
<polygon fill="#ffff32" points="653.9,660.9 655.9,656.9 658.4,655.4 661.4,656.4 663.9,658.9 665.9,662.9 667.6,667.9 669.1,673.9 670.4,679.4 671.4,684.4 671.1,688.4 669.6,691.4 667.4,692.6 664.4,692.1 661.6,689.6 659.1,685.1 657.0,680.4 655.3,675.4 654.1,670.4 653.3,665.4"/>
<polygon fill="#ffff32" points="720.8,610.9 724.8,601.9 732.8,600.0 741.8,601.0 743.8,608.9 741.8,618.9 737.8,624.9 740.8,634.9 737.8,643.9 732.8,644.9 727.8,638.9 726.8,630.9 730.8,624.9 728.8,616.9 722.8,614.9 716.8,618.9 717.8,626.9 713.8,629.9 710.4,624.9 712.8,616.9"/>
<polygon fill="#ffff32" points="688.9,684.9 694.9,681.9 702.9,686.9 708.8,694.9 714.8,698.9 724.8,702.8 728.8,708.8 730.8,716.8 728.8,722.8 720.8,720.8 716.8,724.8 719.8,732.8 720.8,740.8 712.8,742.8 706.8,736.8 702.9,726.8 698.9,718.8 694.9,710.8 692.9,698.9 689.9,690.9"/>
<polygon fill="#ffff32" points="678.9,703.3 680.9,700.4 683.6,698.9 687.1,698.9 690.1,699.9 692.6,701.8 694.1,704.8 694.6,708.8 694.4,712.3 693.4,715.3 691.4,717.3 688.4,718.3 685.4,717.8 682.4,715.8 680.2,713.6 678.9,711.1 678.2,708.6 678.0,706.1"/>
<polygon fill="#ffff32" points="725.8,687.4 727.8,684.4 730.8,682.1 734.8,680.6 738.3,680.6 741.3,682.1 742.6,684.9 742.1,688.9 741.1,692.9 739.6,696.9 739.8,700.9 741.8,704.8 742.3,708.3 741.3,711.3 739.3,713.3 736.3,714.3 733.8,713.8 731.8,711.8 730.3,708.8 729.3,704.8 728.1,700.9 726.6,696.9 725.6,693.4 725.1,690.4"/>
<polygon fill="#ffff32" points="747.8,676.9 754.8,675.9 754.8,683.9 748.8,682.9"/>
<polygon fill="#ffff32" points="747.8,702.8 753.0,697.9 756.8,697.9 756.8,722.8 749.8,720.8 747.2,710.8"/>
<polygon fill="#ffff32" points="745.8,728.8 750.8,724.8 756.8,725.8 756.8,742.8 748.8,740.8 745.8,734.8"/>
<polygon fill="#ffff32" points="789.9,611.7 791.9,609.2 794.9,607.7 798.9,607.2 803.4,607.7 808.4,609.2 813.9,609.9 819.9,609.9 825.9,609.4 831.9,608.4 837.4,608.2 842.4,608.7 847.4,608.7 852.4,608.2 856.4,608.9 859.4,610.9 861.6,614.2 863.1,618.7 863.6,622.4 863.1,625.4 860.9,627.4 856.9,628.4 852.4,628.7 847.4,628.2 842.4,628.4 837.4,629.4 833.4,631.2 830.4,633.7 827.4,634.7 824.4,634.2 820.9,633.2 816.9,631.7 812.4,629.9 807.4,627.9 802.4,625.4 797.4,622.4 793.7,619.9 791.2,617.9 789.7,615.9 789.2,613.9"/>
<polygon fill="#ffff32" points="863.9,603.9 867.9,601.0 874.9,603.9 882.9,604.9 886.8,610.9 894.8,610.9 904.8,611.9 914.8,610.9 924.8,609.9 924.8,626.9 914.8,623.9 904.8,623.9 894.8,621.9 886.8,616.9 878.9,617.9 872.9,614.9 866.9,609.9"/>
<polygon fill="#ffff32" points="734.0,600.0 741.0,601.0 744.0,606.9 743.0,614.9 739.0,618.9 734.0,616.9"/>
<polygon fill="#ffff32" points="754.0,608.9 759.0,606.9 763.0,612.9 762.0,620.9 758.0,623.9 755.0,616.9"/>
<polygon fill="#ffff32" points="734.0,627.9 739.0,628.9 741.0,634.9 739.0,640.9 734.0,642.9"/>
<polygon fill="#ffff32" points="748.0,677.9 752.0,675.9 754.0,679.9 752.0,683.9 748.6,682.9"/>
<polygon fill="#ffff32" points="734.0,680.9 740.0,682.9 742.0,690.9 741.0,700.9 743.0,708.8 739.0,712.8 734.0,710.8"/>
<polygon fill="#ffff32" points="749.0,701.3 751.0,698.4 753.2,697.4 755.7,698.4 757.7,700.9 759.2,704.8 760.7,708.8 762.2,712.8 762.0,716.3 760.0,719.3 757.5,720.3 754.5,719.3 752.0,717.3 750.0,714.3 748.7,710.3 748.2,705.3"/>
<polygon fill="#ffff32" points="761.0,718.8 767.0,710.8 775.0,705.8 783.0,703.8 786.5,708.8 785.0,716.8 789.9,721.8 795.9,720.8 798.9,726.8 797.9,734.8 798.9,742.8 765.0,742.8 759.0,734.8 757.0,726.8"/>
<polygon fill="#ffff32" points="746.0,726.8 753.0,724.8 759.0,730.8 765.0,736.8 767.0,742.8 751.0,742.8 747.0,734.8"/>
<polygon fill="#ffff32" points="706.9,741.0 719.9,741.0 718.9,750.0 715.9,762.0 713.9,774.0 708.9,781.0 703.9,779.0 701.9,772.0 703.9,762.0 705.9,750.0"/>
<polygon fill="#ffff32" points="709.7,799.9 711.2,797.9 712.8,797.4 714.5,798.4 715.5,800.2 715.8,802.7 715.2,804.9 713.7,806.9 712.0,807.4 710.2,806.4 709.2,804.7 709.0,802.2"/>
<polygon fill="#ffff32" points="757.9,741.0 758.9,750.0 757.9,760.0 760.9,770.0 764.9,780.0 768.9,786.0 772.9,782.0 774.9,776.0 780.9,774.0 784.9,779.0 792.9,785.0 802.8,788.0 812.8,787.0 819.8,791.0 820.8,797.9 814.8,801.9 814.8,808.9 822.8,811.9 832.8,812.9 844.8,806.9 850.8,801.9 852.8,795.9 848.8,790.0 844.8,789.0 834.8,790.0 824.8,785.0 816.8,782.0 810.8,776.0 808.8,768.0 802.8,761.0 794.9,759.0 788.9,761.0 792.9,754.0 798.8,748.0 800.8,741.0"/>
<polygon fill="#ffffff" points="702.9,710.8 706.8,708.8 710.8,713.8 707.8,716.8 703.9,714.8"/>
<polygon fill="#009608" points="660.3,670.9 662.5,666.9 663.9,672.9 662.9,676.9 660.9,675.9"/>
<polygon fill="#009608" points="711.4,704.8 714.8,703.8 718.8,706.8 717.8,709.8 713.8,708.4"/>
<polygon fill="#009608" points="707.2,725.8 710.8,724.4 713.8,728.8 714.8,734.8 711.8,735.8 708.4,730.8"/>
<polygon fill="#009608" points="774.6,715.8 778.0,714.8 779.0,718.8 775.0,720.4"/>
<polygon fill="#009608" points="771.0,734.8 775.0,730.8 782.0,731.8 788.9,735.8 791.9,740.8 790.9,742.8 770.0,742.8 769.4,738.8"/>
<polygon fill="#009608" points="770.9,741.0 792.9,741.0 790.9,748.0 784.9,754.0 778.9,757.0 774.9,762.0 773.9,770.0 769.9,768.0 769.9,760.0 771.9,752.0"/>
<ellipse fill="#009608" cx="795.8" cy="771.6" rx="3.6" ry="3.6"/>
<polygon fill="#1964d7" points="779.9,741.0 788.9,741.0 788.5,747.0 784.9,751.0 781.3,749.0"/>
<use href="#ml" x="545.3" y="470.7" shape-rendering="auto"/>
</g>
<rect x="565.0" y="557.7" width="359.3" height="387.6" fill="none" stroke="#000" stroke-width="1.3"/>
<line x1="562.5" x2="565.0" y1="557.7" y2="557.7" stroke="#000" stroke-width="1"/>
<text x="560.0" y="561.1" text-anchor="end" font-size="9.3" font-weight="bold" textLength="13.2" lengthAdjust="spacingAndGlyphs">15N</text>
<line x1="562.5" x2="565.0" y1="583.5" y2="583.5" stroke="#000" stroke-width="1"/>
<text x="560.0" y="586.9" text-anchor="end" font-size="9.3" font-weight="bold" textLength="13.2" lengthAdjust="spacingAndGlyphs">10N</text>
<line x1="562.5" x2="565.0" y1="609.4" y2="609.4" stroke="#000" stroke-width="1"/>
<text x="560.0" y="612.8" text-anchor="end" font-size="9.3" font-weight="bold" textLength="9.2" lengthAdjust="spacingAndGlyphs">5N</text>
<line x1="562.5" x2="565.0" y1="635.2" y2="635.2" stroke="#000" stroke-width="1"/>
<text x="560.0" y="638.6" text-anchor="end" font-size="9.3" font-weight="bold" textLength="9.2" lengthAdjust="spacingAndGlyphs">EQ</text>
<line x1="562.5" x2="565.0" y1="661.1" y2="661.1" stroke="#000" stroke-width="1"/>
<text x="560.0" y="664.5" text-anchor="end" font-size="9.3" font-weight="bold" textLength="9.2" lengthAdjust="spacingAndGlyphs">5S</text>
<line x1="562.5" x2="565.0" y1="686.9" y2="686.9" stroke="#000" stroke-width="1"/>
<text x="560.0" y="690.3" text-anchor="end" font-size="9.3" font-weight="bold" textLength="13.2" lengthAdjust="spacingAndGlyphs">10S</text>
<line x1="562.5" x2="565.0" y1="712.7" y2="712.7" stroke="#000" stroke-width="1"/>
<text x="560.0" y="716.1" text-anchor="end" font-size="9.3" font-weight="bold" textLength="13.2" lengthAdjust="spacingAndGlyphs">15S</text>
<line x1="562.5" x2="565.0" y1="738.6" y2="738.6" stroke="#000" stroke-width="1"/>
<text x="560.0" y="742.0" text-anchor="end" font-size="9.3" font-weight="bold" textLength="13.2" lengthAdjust="spacingAndGlyphs">20S</text>
<line x1="562.5" x2="565.0" y1="764.4" y2="764.4" stroke="#000" stroke-width="1"/>
<text x="560.0" y="767.8" text-anchor="end" font-size="9.3" font-weight="bold" textLength="13.2" lengthAdjust="spacingAndGlyphs">25S</text>
<line x1="562.5" x2="565.0" y1="790.3" y2="790.3" stroke="#000" stroke-width="1"/>
<text x="560.0" y="793.7" text-anchor="end" font-size="9.3" font-weight="bold" textLength="13.2" lengthAdjust="spacingAndGlyphs">30S</text>
<line x1="562.5" x2="565.0" y1="816.1" y2="816.1" stroke="#000" stroke-width="1"/>
<text x="560.0" y="819.5" text-anchor="end" font-size="9.3" font-weight="bold" textLength="13.2" lengthAdjust="spacingAndGlyphs">35S</text>
<line x1="562.5" x2="565.0" y1="841.9" y2="841.9" stroke="#000" stroke-width="1"/>
<text x="560.0" y="845.3" text-anchor="end" font-size="9.3" font-weight="bold" textLength="13.2" lengthAdjust="spacingAndGlyphs">40S</text>
<line x1="562.5" x2="565.0" y1="867.8" y2="867.8" stroke="#000" stroke-width="1"/>
<text x="560.0" y="871.2" text-anchor="end" font-size="9.3" font-weight="bold" textLength="13.2" lengthAdjust="spacingAndGlyphs">45S</text>
<line x1="562.5" x2="565.0" y1="893.6" y2="893.6" stroke="#000" stroke-width="1"/>
<text x="560.0" y="897.0" text-anchor="end" font-size="9.3" font-weight="bold" textLength="13.2" lengthAdjust="spacingAndGlyphs">50S</text>
<line x1="562.5" x2="565.0" y1="919.5" y2="919.5" stroke="#000" stroke-width="1"/>
<text x="560.0" y="922.9" text-anchor="end" font-size="9.3" font-weight="bold" textLength="13.2" lengthAdjust="spacingAndGlyphs">55S</text>
<line x1="562.5" x2="565.0" y1="945.3" y2="945.3" stroke="#000" stroke-width="1"/>
<text x="560.0" y="948.7" text-anchor="end" font-size="9.3" font-weight="bold" textLength="13.2" lengthAdjust="spacingAndGlyphs">60S</text>
<line x1="569.9" x2="569.9" y1="945.3" y2="947.8" stroke="#000" stroke-width="1"/>
<text x="569.9" y="956.4" text-anchor="middle" font-size="9.3" font-weight="bold" textLength="18.2" lengthAdjust="spacingAndGlyphs">100W</text>
<line x1="609.8" x2="609.8" y1="945.3" y2="947.8" stroke="#000" stroke-width="1"/>
<text x="609.8" y="956.4" text-anchor="middle" font-size="9.3" font-weight="bold" textLength="13.6" lengthAdjust="spacingAndGlyphs">90W</text>
<line x1="649.7" x2="649.7" y1="945.3" y2="947.8" stroke="#000" stroke-width="1"/>
<text x="649.7" y="956.4" text-anchor="middle" font-size="9.3" font-weight="bold" textLength="13.6" lengthAdjust="spacingAndGlyphs">80W</text>
<line x1="689.6" x2="689.6" y1="945.3" y2="947.8" stroke="#000" stroke-width="1"/>
<text x="689.6" y="956.4" text-anchor="middle" font-size="9.3" font-weight="bold" textLength="13.6" lengthAdjust="spacingAndGlyphs">70W</text>
<line x1="729.5" x2="729.5" y1="945.3" y2="947.8" stroke="#000" stroke-width="1"/>
<text x="729.5" y="956.4" text-anchor="middle" font-size="9.3" font-weight="bold" textLength="13.6" lengthAdjust="spacingAndGlyphs">60W</text>
<line x1="769.4" x2="769.4" y1="945.3" y2="947.8" stroke="#000" stroke-width="1"/>
<text x="769.4" y="956.4" text-anchor="middle" font-size="9.3" font-weight="bold" textLength="13.6" lengthAdjust="spacingAndGlyphs">50W</text>
<line x1="809.4" x2="809.4" y1="945.3" y2="947.8" stroke="#000" stroke-width="1"/>
<text x="809.4" y="956.4" text-anchor="middle" font-size="9.3" font-weight="bold" textLength="13.6" lengthAdjust="spacingAndGlyphs">40W</text>
<line x1="849.3" x2="849.3" y1="945.3" y2="947.8" stroke="#000" stroke-width="1"/>
<text x="849.3" y="956.4" text-anchor="middle" font-size="9.3" font-weight="bold" textLength="13.6" lengthAdjust="spacingAndGlyphs">30W</text>
<line x1="889.2" x2="889.2" y1="945.3" y2="947.8" stroke="#000" stroke-width="1"/>
<text x="889.2" y="956.4" text-anchor="middle" font-size="9.3" font-weight="bold" textLength="13.6" lengthAdjust="spacingAndGlyphs">20W</text>
<polygon points="964.9,710.9 970.8,681.6 976.6,710.9" fill="#2f1ea5" stroke="#000" stroke-width="1"/>
<rect x="964.9" y="710.9" width="11.7" height="27.6" fill="#1964d7" stroke="#000" stroke-width="1"/>
<rect x="964.9" y="738.5" width="11.7" height="27.9" fill="#009608" stroke="#000" stroke-width="1"/>
<rect x="964.9" y="766.4" width="11.7" height="27.8" fill="#ffff32" stroke="#000" stroke-width="1"/>
<polygon points="964.9,794.2 970.8,822.2 976.6,794.2" fill="#fff" stroke="#000" stroke-width="1"/>
<text x="978.6" y="714.5" font-size="11.4" font-weight="bold">95</text>
<text x="978.6" y="742.1" font-size="11.4" font-weight="bold">65</text>
<text x="978.6" y="770.0" font-size="11.4" font-weight="bold">35</text>
<text x="978.6" y="797.8" font-size="11.4" font-weight="bold">5</text>
<text x="472" y="18.5" text-anchor="middle" font-size="19" textLength="789" lengthAdjust="spacing">CPTEC/INPE/MCT − PREVISAO DE TEMPO GLOBAL POR ENSEMBLE − TQ0126L028</text>
<text x="472" y="42" text-anchor="middle" font-size="19" textLength="880" lengthAdjust="spacing" xml:space="preserve">Previsao de Probabilidades (%) −  A partir de: 2020120300Z  Valido para: 2020121006Z</text>
<text x="5.5" y="77.2" font-size="17.5" textLength="388.0" lengthAdjust="spacing">Precipitacao acumulada em 24 hrs &gt; 1.0 mm</text>
<text x="551.0" y="77.2" font-size="17.5" textLength="388.0" lengthAdjust="spacing">Precipitacao acumulada em 24 hrs &gt; 5.0 mm</text>
<text x="1.0" y="547.9" font-size="17.5" textLength="397.0" lengthAdjust="spacing">Precipitacao acumulada em 24 hrs &gt; 10.0 mm</text>
<text x="546.5" y="547.9" font-size="17.5" textLength="397.0" lengthAdjust="spacing">Precipitacao acumulada em 24 hrs &gt; 20.0 mm</text>
</svg></body></html>
